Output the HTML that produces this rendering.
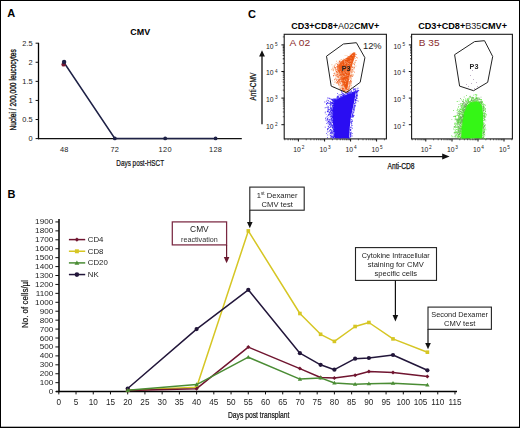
<!DOCTYPE html>
<html><head><meta charset="utf-8"><style>
html,body{margin:0;padding:0;background:#fff;}
svg{display:block;font-family:"Liberation Sans", sans-serif;}
</style></head><body>
<svg width="520" height="428" viewBox="0 0 520 428">
<defs><filter id="soft" x="-5%" y="-5%" width="110%" height="110%"><feGaussianBlur stdDeviation="0.3"/></filter></defs>
<rect width="520" height="428" fill="#fff"/>
<rect x="0" y="0" width="520" height="1" fill="#000"/>
<rect x="0" y="0" width="1" height="428" fill="#000"/>
<rect x="519" y="0" width="1" height="428" fill="#000"/>
<rect x="0" y="426.7" width="520" height="1.3" fill="#000"/>
<text x="7.2" y="17.2" font-size="11" font-weight="bold" fill="#000" text-anchor="start" >A</text>
<text x="248.0" y="17.5" font-size="11" font-weight="bold" fill="#000" text-anchor="start" >C</text>
<text x="7.4" y="197.6" font-size="11" font-weight="bold" fill="#000" text-anchor="start" >B</text>
<text x="130.3" y="34.9" font-size="9.3" font-weight="bold" fill="#000" text-anchor="start" textLength="19.8" lengthAdjust="spacingAndGlyphs" >CMV</text>
<line x1="38.5" y1="42.8" x2="38.5" y2="139.2" stroke="#000" stroke-width="1.3" />
<line x1="38" y1="138.6" x2="241.8" y2="138.6" stroke="#111" stroke-width="1.3" />
<line x1="35.6" y1="43.2" x2="38.5" y2="43.2" stroke="#111" stroke-width="1" />
<text x="32.6" y="45.800000000000004" font-size="7.4" font-weight="normal" fill="#222" text-anchor="end" >2.5</text>
<line x1="35.6" y1="62.28" x2="38.5" y2="62.28" stroke="#111" stroke-width="1" />
<text x="32.6" y="64.88" font-size="7.4" font-weight="normal" fill="#222" text-anchor="end" >2</text>
<line x1="35.6" y1="81.36" x2="38.5" y2="81.36" stroke="#111" stroke-width="1" />
<text x="32.6" y="83.96" font-size="7.4" font-weight="normal" fill="#222" text-anchor="end" >1.5</text>
<line x1="35.6" y1="100.44" x2="38.5" y2="100.44" stroke="#111" stroke-width="1" />
<text x="32.6" y="103.03999999999999" font-size="7.4" font-weight="normal" fill="#222" text-anchor="end" >1</text>
<line x1="35.6" y1="119.52" x2="38.5" y2="119.52" stroke="#111" stroke-width="1" />
<text x="32.6" y="122.11999999999999" font-size="7.4" font-weight="normal" fill="#222" text-anchor="end" >0.5</text>
<line x1="35.6" y1="138.6" x2="38.5" y2="138.6" stroke="#111" stroke-width="1" />
<text x="32.6" y="141.2" font-size="7.4" font-weight="normal" fill="#222" text-anchor="end" >0</text>
<text x="64.3" y="151.8" font-size="7.4" font-weight="normal" fill="#222" text-anchor="middle" letter-spacing="0.3">48</text>
<text x="114.8" y="151.8" font-size="7.4" font-weight="normal" fill="#222" text-anchor="middle" letter-spacing="0.3">72</text>
<text x="165.2" y="151.8" font-size="7.4" font-weight="normal" fill="#222" text-anchor="middle" letter-spacing="0.3">120</text>
<text x="215.6" y="151.8" font-size="7.4" font-weight="normal" fill="#222" text-anchor="middle" letter-spacing="0.3">128</text>
<text x="116.3" y="165.7" font-size="8.6" font-weight="normal" fill="#111" text-anchor="start" textLength="47.8" lengthAdjust="spacingAndGlyphs" stroke="#111" stroke-width="0.2">Days post-HSCT</text>
<g transform="translate(15.6,130.6) rotate(-90)"><text x="0" y="0" font-size="9.2" fill="#111" stroke="#111" stroke-width="0.35" textLength="81.5" lengthAdjust="spacingAndGlyphs">Nuclei / 200,000 leucocytes</text></g>
<polyline points="64.3,63 114.8,138.4 165.2,138.4 215.6,138.4" fill="none" stroke="#1e2146" stroke-width="1.5"/>
<circle cx="63.6" cy="64.4" r="2.2" fill="#7a1832"/>
<circle cx="64.1" cy="62" r="2.2" fill="#1e2146"/>
<circle cx="114.8" cy="138.4" r="1.9" fill="#1e2146"/>
<circle cx="165.2" cy="138.4" r="1.9" fill="#1e2146"/>
<circle cx="215.6" cy="138.4" r="1.9" fill="#1e2146"/>
<rect x="284.2" y="34.3" width="102.19999999999999" height="104.60000000000001" fill="none" stroke="#1a1a1a" stroke-width="1.1"/>
<line x1="281.4" y1="44.9" x2="284.2" y2="44.9" stroke="#111" stroke-width="1" />
<line x1="281.4" y1="71.5" x2="284.2" y2="71.5" stroke="#111" stroke-width="1" />
<line x1="281.4" y1="98.1" x2="284.2" y2="98.1" stroke="#111" stroke-width="1" />
<line x1="281.4" y1="124.7" x2="284.2" y2="124.7" stroke="#111" stroke-width="1" />
<line x1="282.8" y1="63.4926021153381" x2="284.2" y2="63.4926021153381" stroke="#222" stroke-width="0.7" />
<line x1="282.8" y1="58.80857462445698" x2="284.2" y2="58.80857462445698" stroke="#222" stroke-width="0.7" />
<line x1="282.8" y1="55.4852042306762" x2="284.2" y2="55.4852042306762" stroke="#222" stroke-width="0.7" />
<line x1="282.8" y1="52.9073978846619" x2="284.2" y2="52.9073978846619" stroke="#222" stroke-width="0.7" />
<line x1="282.8" y1="50.80117673979508" x2="284.2" y2="50.80117673979508" stroke="#222" stroke-width="0.7" />
<line x1="282.8" y1="49.02039213562077" x2="284.2" y2="49.02039213562077" stroke="#222" stroke-width="0.7" />
<line x1="282.8" y1="47.477806346014304" x2="284.2" y2="47.477806346014304" stroke="#222" stroke-width="0.7" />
<line x1="282.8" y1="46.11714924891396" x2="284.2" y2="46.11714924891396" stroke="#222" stroke-width="0.7" />
<line x1="282.8" y1="36.8926021153381" x2="284.2" y2="36.8926021153381" stroke="#222" stroke-width="0.7" />
<line x1="282.8" y1="63.4926021153381" x2="284.2" y2="63.4926021153381" stroke="#222" stroke-width="0.7" />
<line x1="282.8" y1="58.80857462445698" x2="284.2" y2="58.80857462445698" stroke="#222" stroke-width="0.7" />
<line x1="282.8" y1="55.4852042306762" x2="284.2" y2="55.4852042306762" stroke="#222" stroke-width="0.7" />
<line x1="282.8" y1="52.9073978846619" x2="284.2" y2="52.9073978846619" stroke="#222" stroke-width="0.7" />
<line x1="282.8" y1="50.80117673979508" x2="284.2" y2="50.80117673979508" stroke="#222" stroke-width="0.7" />
<line x1="282.8" y1="49.02039213562077" x2="284.2" y2="49.02039213562077" stroke="#222" stroke-width="0.7" />
<line x1="282.8" y1="47.477806346014304" x2="284.2" y2="47.477806346014304" stroke="#222" stroke-width="0.7" />
<line x1="282.8" y1="46.11714924891396" x2="284.2" y2="46.11714924891396" stroke="#222" stroke-width="0.7" />
<line x1="282.8" y1="90.0926021153381" x2="284.2" y2="90.0926021153381" stroke="#222" stroke-width="0.7" />
<line x1="282.8" y1="85.40857462445697" x2="284.2" y2="85.40857462445697" stroke="#222" stroke-width="0.7" />
<line x1="282.8" y1="82.0852042306762" x2="284.2" y2="82.0852042306762" stroke="#222" stroke-width="0.7" />
<line x1="282.8" y1="79.50739788466188" x2="284.2" y2="79.50739788466188" stroke="#222" stroke-width="0.7" />
<line x1="282.8" y1="77.40117673979508" x2="284.2" y2="77.40117673979508" stroke="#222" stroke-width="0.7" />
<line x1="282.8" y1="75.62039213562076" x2="284.2" y2="75.62039213562076" stroke="#222" stroke-width="0.7" />
<line x1="282.8" y1="74.0778063460143" x2="284.2" y2="74.0778063460143" stroke="#222" stroke-width="0.7" />
<line x1="282.8" y1="72.71714924891396" x2="284.2" y2="72.71714924891396" stroke="#222" stroke-width="0.7" />
<line x1="282.8" y1="116.6926021153381" x2="284.2" y2="116.6926021153381" stroke="#222" stroke-width="0.7" />
<line x1="282.8" y1="112.00857462445698" x2="284.2" y2="112.00857462445698" stroke="#222" stroke-width="0.7" />
<line x1="282.8" y1="108.6852042306762" x2="284.2" y2="108.6852042306762" stroke="#222" stroke-width="0.7" />
<line x1="282.8" y1="106.1073978846619" x2="284.2" y2="106.1073978846619" stroke="#222" stroke-width="0.7" />
<line x1="282.8" y1="104.00117673979508" x2="284.2" y2="104.00117673979508" stroke="#222" stroke-width="0.7" />
<line x1="282.8" y1="102.22039213562077" x2="284.2" y2="102.22039213562077" stroke="#222" stroke-width="0.7" />
<line x1="282.8" y1="100.67780634601431" x2="284.2" y2="100.67780634601431" stroke="#222" stroke-width="0.7" />
<line x1="282.8" y1="99.31714924891396" x2="284.2" y2="99.31714924891396" stroke="#222" stroke-width="0.7" />
<line x1="298.4" y1="138.9" x2="298.4" y2="141.5" stroke="#111" stroke-width="1" />
<line x1="324.6" y1="138.9" x2="324.6" y2="141.5" stroke="#111" stroke-width="1" />
<line x1="350.6" y1="138.9" x2="350.6" y2="141.5" stroke="#111" stroke-width="1" />
<line x1="376.6" y1="138.9" x2="376.6" y2="141.5" stroke="#111" stroke-width="1" />
<line x1="284.8051526227112" y1="138.9" x2="284.8051526227112" y2="140.3" stroke="#222" stroke-width="0.7" />
<line x1="288.053559774527" y1="138.9" x2="288.053559774527" y2="140.3" stroke="#222" stroke-width="0.7" />
<line x1="290.57322011273646" y1="138.9" x2="290.57322011273646" y2="140.3" stroke="#222" stroke-width="0.7" />
<line x1="292.6319325099747" y1="138.9" x2="292.6319325099747" y2="140.3" stroke="#222" stroke-width="0.7" />
<line x1="294.37254904037064" y1="138.9" x2="294.37254904037064" y2="140.3" stroke="#222" stroke-width="0.7" />
<line x1="295.8803396617905" y1="138.9" x2="295.8803396617905" y2="140.3" stroke="#222" stroke-width="0.7" />
<line x1="297.21030524542243" y1="138.9" x2="297.21030524542243" y2="140.3" stroke="#222" stroke-width="0.7" />
<line x1="306.2267798872635" y1="138.9" x2="306.2267798872635" y2="140.3" stroke="#222" stroke-width="0.7" />
<line x1="310.8051526227112" y1="138.9" x2="310.8051526227112" y2="140.3" stroke="#222" stroke-width="0.7" />
<line x1="314.053559774527" y1="138.9" x2="314.053559774527" y2="140.3" stroke="#222" stroke-width="0.7" />
<line x1="316.57322011273646" y1="138.9" x2="316.57322011273646" y2="140.3" stroke="#222" stroke-width="0.7" />
<line x1="318.6319325099747" y1="138.9" x2="318.6319325099747" y2="140.3" stroke="#222" stroke-width="0.7" />
<line x1="320.37254904037064" y1="138.9" x2="320.37254904037064" y2="140.3" stroke="#222" stroke-width="0.7" />
<line x1="321.8803396617905" y1="138.9" x2="321.8803396617905" y2="140.3" stroke="#222" stroke-width="0.7" />
<line x1="323.21030524542243" y1="138.9" x2="323.21030524542243" y2="140.3" stroke="#222" stroke-width="0.7" />
<line x1="332.42677988726354" y1="138.9" x2="332.42677988726354" y2="140.3" stroke="#222" stroke-width="0.7" />
<line x1="337.00515262271125" y1="138.9" x2="337.00515262271125" y2="140.3" stroke="#222" stroke-width="0.7" />
<line x1="340.25355977452705" y1="138.9" x2="340.25355977452705" y2="140.3" stroke="#222" stroke-width="0.7" />
<line x1="342.7732201127365" y1="138.9" x2="342.7732201127365" y2="140.3" stroke="#222" stroke-width="0.7" />
<line x1="344.83193250997476" y1="138.9" x2="344.83193250997476" y2="140.3" stroke="#222" stroke-width="0.7" />
<line x1="346.5725490403707" y1="138.9" x2="346.5725490403707" y2="140.3" stroke="#222" stroke-width="0.7" />
<line x1="348.08033966179056" y1="138.9" x2="348.08033966179056" y2="140.3" stroke="#222" stroke-width="0.7" />
<line x1="349.4103052454225" y1="138.9" x2="349.4103052454225" y2="140.3" stroke="#222" stroke-width="0.7" />
<line x1="358.42677988726354" y1="138.9" x2="358.42677988726354" y2="140.3" stroke="#222" stroke-width="0.7" />
<line x1="363.00515262271125" y1="138.9" x2="363.00515262271125" y2="140.3" stroke="#222" stroke-width="0.7" />
<line x1="366.25355977452705" y1="138.9" x2="366.25355977452705" y2="140.3" stroke="#222" stroke-width="0.7" />
<line x1="368.7732201127365" y1="138.9" x2="368.7732201127365" y2="140.3" stroke="#222" stroke-width="0.7" />
<line x1="370.83193250997476" y1="138.9" x2="370.83193250997476" y2="140.3" stroke="#222" stroke-width="0.7" />
<line x1="372.5725490403707" y1="138.9" x2="372.5725490403707" y2="140.3" stroke="#222" stroke-width="0.7" />
<line x1="374.08033966179056" y1="138.9" x2="374.08033966179056" y2="140.3" stroke="#222" stroke-width="0.7" />
<line x1="375.4103052454225" y1="138.9" x2="375.4103052454225" y2="140.3" stroke="#222" stroke-width="0.7" />
<line x1="384.42677988726354" y1="138.9" x2="384.42677988726354" y2="140.3" stroke="#222" stroke-width="0.7" />
<text x="293.3" y="151.8" font-size="7.4" fill="#222" textLength="7.6" lengthAdjust="spacingAndGlyphs">10</text>
<text x="301.7" y="148.9" font-size="4.7" fill="#222">2</text>
<text x="319.5" y="151.8" font-size="7.4" fill="#222" textLength="7.6" lengthAdjust="spacingAndGlyphs">10</text>
<text x="327.9" y="148.9" font-size="4.7" fill="#222">3</text>
<text x="345.5" y="151.8" font-size="7.4" fill="#222" textLength="7.6" lengthAdjust="spacingAndGlyphs">10</text>
<text x="353.9" y="148.9" font-size="4.7" fill="#222">4</text>
<text x="371.5" y="151.8" font-size="7.4" fill="#222" textLength="7.6" lengthAdjust="spacingAndGlyphs">10</text>
<text x="379.9" y="148.9" font-size="4.7" fill="#222">5</text>
<text x="266.0" y="48.8" font-size="7.4" fill="#222" textLength="7.6" lengthAdjust="spacingAndGlyphs">10</text>
<text x="277.7" y="46.2" font-size="4.7" fill="#222" text-anchor="end">5</text>
<text x="266.0" y="75.4" font-size="7.4" fill="#222" textLength="7.6" lengthAdjust="spacingAndGlyphs">10</text>
<text x="277.7" y="72.8" font-size="4.7" fill="#222" text-anchor="end">4</text>
<text x="266.0" y="102.0" font-size="7.4" fill="#222" textLength="7.6" lengthAdjust="spacingAndGlyphs">10</text>
<text x="277.7" y="99.4" font-size="4.7" fill="#222" text-anchor="end">3</text>
<text x="266.0" y="128.6" font-size="7.4" fill="#222" textLength="7.6" lengthAdjust="spacingAndGlyphs">10</text>
<text x="277.7" y="126.0" font-size="4.7" fill="#222" text-anchor="end">2</text>
<rect x="411.6" y="34.3" width="100.79999999999995" height="104.60000000000001" fill="none" stroke="#1a1a1a" stroke-width="1.1"/>
<line x1="408.8" y1="44.9" x2="411.6" y2="44.9" stroke="#111" stroke-width="1" />
<line x1="408.8" y1="71.5" x2="411.6" y2="71.5" stroke="#111" stroke-width="1" />
<line x1="408.8" y1="98.1" x2="411.6" y2="98.1" stroke="#111" stroke-width="1" />
<line x1="408.8" y1="124.7" x2="411.6" y2="124.7" stroke="#111" stroke-width="1" />
<line x1="410.20000000000005" y1="63.4926021153381" x2="411.6" y2="63.4926021153381" stroke="#222" stroke-width="0.7" />
<line x1="410.20000000000005" y1="58.80857462445698" x2="411.6" y2="58.80857462445698" stroke="#222" stroke-width="0.7" />
<line x1="410.20000000000005" y1="55.4852042306762" x2="411.6" y2="55.4852042306762" stroke="#222" stroke-width="0.7" />
<line x1="410.20000000000005" y1="52.9073978846619" x2="411.6" y2="52.9073978846619" stroke="#222" stroke-width="0.7" />
<line x1="410.20000000000005" y1="50.80117673979508" x2="411.6" y2="50.80117673979508" stroke="#222" stroke-width="0.7" />
<line x1="410.20000000000005" y1="49.02039213562077" x2="411.6" y2="49.02039213562077" stroke="#222" stroke-width="0.7" />
<line x1="410.20000000000005" y1="47.477806346014304" x2="411.6" y2="47.477806346014304" stroke="#222" stroke-width="0.7" />
<line x1="410.20000000000005" y1="46.11714924891396" x2="411.6" y2="46.11714924891396" stroke="#222" stroke-width="0.7" />
<line x1="410.20000000000005" y1="36.8926021153381" x2="411.6" y2="36.8926021153381" stroke="#222" stroke-width="0.7" />
<line x1="410.20000000000005" y1="63.4926021153381" x2="411.6" y2="63.4926021153381" stroke="#222" stroke-width="0.7" />
<line x1="410.20000000000005" y1="58.80857462445698" x2="411.6" y2="58.80857462445698" stroke="#222" stroke-width="0.7" />
<line x1="410.20000000000005" y1="55.4852042306762" x2="411.6" y2="55.4852042306762" stroke="#222" stroke-width="0.7" />
<line x1="410.20000000000005" y1="52.9073978846619" x2="411.6" y2="52.9073978846619" stroke="#222" stroke-width="0.7" />
<line x1="410.20000000000005" y1="50.80117673979508" x2="411.6" y2="50.80117673979508" stroke="#222" stroke-width="0.7" />
<line x1="410.20000000000005" y1="49.02039213562077" x2="411.6" y2="49.02039213562077" stroke="#222" stroke-width="0.7" />
<line x1="410.20000000000005" y1="47.477806346014304" x2="411.6" y2="47.477806346014304" stroke="#222" stroke-width="0.7" />
<line x1="410.20000000000005" y1="46.11714924891396" x2="411.6" y2="46.11714924891396" stroke="#222" stroke-width="0.7" />
<line x1="410.20000000000005" y1="90.0926021153381" x2="411.6" y2="90.0926021153381" stroke="#222" stroke-width="0.7" />
<line x1="410.20000000000005" y1="85.40857462445697" x2="411.6" y2="85.40857462445697" stroke="#222" stroke-width="0.7" />
<line x1="410.20000000000005" y1="82.0852042306762" x2="411.6" y2="82.0852042306762" stroke="#222" stroke-width="0.7" />
<line x1="410.20000000000005" y1="79.50739788466188" x2="411.6" y2="79.50739788466188" stroke="#222" stroke-width="0.7" />
<line x1="410.20000000000005" y1="77.40117673979508" x2="411.6" y2="77.40117673979508" stroke="#222" stroke-width="0.7" />
<line x1="410.20000000000005" y1="75.62039213562076" x2="411.6" y2="75.62039213562076" stroke="#222" stroke-width="0.7" />
<line x1="410.20000000000005" y1="74.0778063460143" x2="411.6" y2="74.0778063460143" stroke="#222" stroke-width="0.7" />
<line x1="410.20000000000005" y1="72.71714924891396" x2="411.6" y2="72.71714924891396" stroke="#222" stroke-width="0.7" />
<line x1="410.20000000000005" y1="116.6926021153381" x2="411.6" y2="116.6926021153381" stroke="#222" stroke-width="0.7" />
<line x1="410.20000000000005" y1="112.00857462445698" x2="411.6" y2="112.00857462445698" stroke="#222" stroke-width="0.7" />
<line x1="410.20000000000005" y1="108.6852042306762" x2="411.6" y2="108.6852042306762" stroke="#222" stroke-width="0.7" />
<line x1="410.20000000000005" y1="106.1073978846619" x2="411.6" y2="106.1073978846619" stroke="#222" stroke-width="0.7" />
<line x1="410.20000000000005" y1="104.00117673979508" x2="411.6" y2="104.00117673979508" stroke="#222" stroke-width="0.7" />
<line x1="410.20000000000005" y1="102.22039213562077" x2="411.6" y2="102.22039213562077" stroke="#222" stroke-width="0.7" />
<line x1="410.20000000000005" y1="100.67780634601431" x2="411.6" y2="100.67780634601431" stroke="#222" stroke-width="0.7" />
<line x1="410.20000000000005" y1="99.31714924891396" x2="411.6" y2="99.31714924891396" stroke="#222" stroke-width="0.7" />
<line x1="425.8" y1="138.9" x2="425.8" y2="141.5" stroke="#111" stroke-width="1" />
<line x1="452.00000000000006" y1="138.9" x2="452.00000000000006" y2="141.5" stroke="#111" stroke-width="1" />
<line x1="478.00000000000006" y1="138.9" x2="478.00000000000006" y2="141.5" stroke="#111" stroke-width="1" />
<line x1="504.00000000000006" y1="138.9" x2="504.00000000000006" y2="141.5" stroke="#111" stroke-width="1" />
<line x1="412.20515262271124" y1="138.9" x2="412.20515262271124" y2="140.3" stroke="#222" stroke-width="0.7" />
<line x1="415.45355977452704" y1="138.9" x2="415.45355977452704" y2="140.3" stroke="#222" stroke-width="0.7" />
<line x1="417.9732201127365" y1="138.9" x2="417.9732201127365" y2="140.3" stroke="#222" stroke-width="0.7" />
<line x1="420.03193250997475" y1="138.9" x2="420.03193250997475" y2="140.3" stroke="#222" stroke-width="0.7" />
<line x1="421.7725490403707" y1="138.9" x2="421.7725490403707" y2="140.3" stroke="#222" stroke-width="0.7" />
<line x1="423.28033966179055" y1="138.9" x2="423.28033966179055" y2="140.3" stroke="#222" stroke-width="0.7" />
<line x1="424.61030524542247" y1="138.9" x2="424.61030524542247" y2="140.3" stroke="#222" stroke-width="0.7" />
<line x1="433.6267798872635" y1="138.9" x2="433.6267798872635" y2="140.3" stroke="#222" stroke-width="0.7" />
<line x1="438.20515262271124" y1="138.9" x2="438.20515262271124" y2="140.3" stroke="#222" stroke-width="0.7" />
<line x1="441.45355977452704" y1="138.9" x2="441.45355977452704" y2="140.3" stroke="#222" stroke-width="0.7" />
<line x1="443.9732201127365" y1="138.9" x2="443.9732201127365" y2="140.3" stroke="#222" stroke-width="0.7" />
<line x1="446.03193250997475" y1="138.9" x2="446.03193250997475" y2="140.3" stroke="#222" stroke-width="0.7" />
<line x1="447.7725490403707" y1="138.9" x2="447.7725490403707" y2="140.3" stroke="#222" stroke-width="0.7" />
<line x1="449.28033966179055" y1="138.9" x2="449.28033966179055" y2="140.3" stroke="#222" stroke-width="0.7" />
<line x1="450.61030524542247" y1="138.9" x2="450.61030524542247" y2="140.3" stroke="#222" stroke-width="0.7" />
<line x1="459.82677988726357" y1="138.9" x2="459.82677988726357" y2="140.3" stroke="#222" stroke-width="0.7" />
<line x1="464.4051526227113" y1="138.9" x2="464.4051526227113" y2="140.3" stroke="#222" stroke-width="0.7" />
<line x1="467.6535597745271" y1="138.9" x2="467.6535597745271" y2="140.3" stroke="#222" stroke-width="0.7" />
<line x1="470.17322011273654" y1="138.9" x2="470.17322011273654" y2="140.3" stroke="#222" stroke-width="0.7" />
<line x1="472.2319325099748" y1="138.9" x2="472.2319325099748" y2="140.3" stroke="#222" stroke-width="0.7" />
<line x1="473.9725490403707" y1="138.9" x2="473.9725490403707" y2="140.3" stroke="#222" stroke-width="0.7" />
<line x1="475.4803396617906" y1="138.9" x2="475.4803396617906" y2="140.3" stroke="#222" stroke-width="0.7" />
<line x1="476.8103052454225" y1="138.9" x2="476.8103052454225" y2="140.3" stroke="#222" stroke-width="0.7" />
<line x1="485.82677988726357" y1="138.9" x2="485.82677988726357" y2="140.3" stroke="#222" stroke-width="0.7" />
<line x1="490.4051526227113" y1="138.9" x2="490.4051526227113" y2="140.3" stroke="#222" stroke-width="0.7" />
<line x1="493.6535597745271" y1="138.9" x2="493.6535597745271" y2="140.3" stroke="#222" stroke-width="0.7" />
<line x1="496.17322011273654" y1="138.9" x2="496.17322011273654" y2="140.3" stroke="#222" stroke-width="0.7" />
<line x1="498.2319325099748" y1="138.9" x2="498.2319325099748" y2="140.3" stroke="#222" stroke-width="0.7" />
<line x1="499.9725490403707" y1="138.9" x2="499.9725490403707" y2="140.3" stroke="#222" stroke-width="0.7" />
<line x1="501.4803396617906" y1="138.9" x2="501.4803396617906" y2="140.3" stroke="#222" stroke-width="0.7" />
<line x1="502.8103052454225" y1="138.9" x2="502.8103052454225" y2="140.3" stroke="#222" stroke-width="0.7" />
<line x1="511.82677988726357" y1="138.9" x2="511.82677988726357" y2="140.3" stroke="#222" stroke-width="0.7" />
<text x="420.7" y="151.8" font-size="7.4" fill="#222" textLength="7.6" lengthAdjust="spacingAndGlyphs">10</text>
<text x="429.1" y="148.9" font-size="4.7" fill="#222">2</text>
<text x="446.9" y="151.8" font-size="7.4" fill="#222" textLength="7.6" lengthAdjust="spacingAndGlyphs">10</text>
<text x="455.3" y="148.9" font-size="4.7" fill="#222">3</text>
<text x="472.9" y="151.8" font-size="7.4" fill="#222" textLength="7.6" lengthAdjust="spacingAndGlyphs">10</text>
<text x="481.3" y="148.9" font-size="4.7" fill="#222">4</text>
<text x="498.9" y="151.8" font-size="7.4" fill="#222" textLength="7.6" lengthAdjust="spacingAndGlyphs">10</text>
<text x="507.3" y="148.9" font-size="4.7" fill="#222">5</text>
<text x="393.4" y="48.8" font-size="7.4" fill="#222" textLength="7.6" lengthAdjust="spacingAndGlyphs">10</text>
<text x="405.1" y="46.2" font-size="4.7" fill="#222" text-anchor="end">5</text>
<text x="393.4" y="75.4" font-size="7.4" fill="#222" textLength="7.6" lengthAdjust="spacingAndGlyphs">10</text>
<text x="405.1" y="72.8" font-size="4.7" fill="#222" text-anchor="end">4</text>
<text x="393.4" y="102.0" font-size="7.4" fill="#222" textLength="7.6" lengthAdjust="spacingAndGlyphs">10</text>
<text x="405.1" y="99.4" font-size="4.7" fill="#222" text-anchor="end">3</text>
<text x="393.4" y="128.6" font-size="7.4" fill="#222" textLength="7.6" lengthAdjust="spacingAndGlyphs">10</text>
<text x="405.1" y="126.0" font-size="4.7" fill="#222" text-anchor="end">2</text>
<text x="291.3" y="28.8" font-size="8.2" fill="#000" textLength="88" lengthAdjust="spacingAndGlyphs"><tspan font-weight="bold">CD3+CD8+</tspan><tspan fill="#222">A02</tspan><tspan font-weight="bold">CMV+</tspan></text>
<text x="418.2" y="28.8" font-size="8.2" fill="#000" textLength="88.8" lengthAdjust="spacingAndGlyphs"><tspan font-weight="bold">CD3+CD8+</tspan><tspan fill="#222">B35</tspan><tspan font-weight="bold">CMV+</tspan></text>
<text x="289.6" y="46.0" font-size="8.4" font-weight="normal" fill="#8a2c2c" text-anchor="start" textLength="20.5" lengthAdjust="spacingAndGlyphs" >A 02</text>
<text x="418.8" y="46.2" font-size="8.4" font-weight="normal" fill="#8a2c2c" text-anchor="start" textLength="20.7" lengthAdjust="spacingAndGlyphs" >B 35</text>
<text x="363.0" y="49.2" font-size="9.0" font-weight="normal" fill="#222" text-anchor="start" textLength="18.6" lengthAdjust="spacingAndGlyphs" >12%</text>
<line x1="262" y1="54" x2="262" y2="124.2" stroke="#111" stroke-width="1.3" />
<polygon points="262,50.2 259.1,56.4 264.9,56.4" fill="#111"/>
<line x1="358.5" y1="156.6" x2="444" y2="156.6" stroke="#111" stroke-width="1.3" />
<polygon points="449.6,156.6 442.2,153.6 442.2,159.6" fill="#111"/>
<text x="387.5" y="168.5" font-size="8.8" font-weight="normal" fill="#111" text-anchor="start" textLength="27" lengthAdjust="spacingAndGlyphs" stroke="#111" stroke-width="0.25">Anti-CD8</text>
<g transform="translate(256.1,100.6) rotate(-90)"><text x="0" y="0" font-size="9" fill="#111" stroke="#111" stroke-width="0.25" textLength="28" lengthAdjust="spacingAndGlyphs">Anti-CMV</text></g>
<g filter="url(#soft)">
<path d="M333.7,101.0 L340.0,97.5 L348.0,94.0 L356.0,91.2 L355.0,97.0 L353.8,103.6 L352.2,111.0 L350.8,118.0 L349.8,127.0 L349.2,138.2 L335.0,138.2 L333.8,131.0 L333.0,123.3 L332.4,110.2 Z" fill="#2a10f2"/>
<path d="M324.8 112.4h0.84v0.84h-0.84zM330.2 116.3h0.84v0.84h-0.84zM352.6 112.9h0.84v0.84h-0.84zM326.8 119.1h0.84v0.84h-0.84zM345.4 93.5h0.84v0.84h-0.84zM343.2 95.2h0.84v0.84h-0.84zM346.3 92.7h0.84v0.84h-0.84zM335.1 98.4h0.84v0.84h-0.84zM341.6 95.4h0.84v0.84h-0.84zM356.7 91.4h0.84v0.84h-0.84zM333.1 100.3h0.84v0.84h-0.84zM327.6 109.0h0.84v0.84h-0.84zM337.1 96.1h0.84v0.84h-0.84zM326.8 99.7h0.84v0.84h-0.84zM356.5 100.0h0.84v0.84h-0.84zM330.0 104.0h0.84v0.84h-0.84zM354.8 99.2h0.84v0.84h-0.84zM332.9 101.2h0.84v0.84h-0.84zM329.1 109.2h0.84v0.84h-0.84zM333.0 136.5h0.84v0.84h-0.84zM332.4 116.5h0.84v0.84h-0.84zM352.1 111.5h0.84v0.84h-0.84zM354.9 101.8h0.84v0.84h-0.84zM331.4 135.4h0.84v0.84h-0.84zM347.8 93.2h0.84v0.84h-0.84zM339.5 138.2h0.84v0.84h-0.84zM333.2 99.8h0.84v0.84h-0.84zM339.6 94.6h0.84v0.84h-0.84zM331.3 133.4h0.84v0.84h-0.84zM342.0 93.1h0.84v0.84h-0.84zM326.2 103.8h0.84v0.84h-0.84zM332.7 99.4h0.84v0.84h-0.84zM352.9 91.7h0.84v0.84h-0.84zM339.3 97.5h0.84v0.84h-0.84zM333.1 136.2h0.84v0.84h-0.84zM331.2 136.7h0.84v0.84h-0.84zM344.0 95.6h0.84v0.84h-0.84zM331.6 136.9h0.84v0.84h-0.84zM356.6 89.9h0.84v0.84h-0.84zM355.3 98.8h0.84v0.84h-0.84zM351.4 92.2h0.84v0.84h-0.84zM331.0 98.8h0.84v0.84h-0.84zM331.8 105.2h0.84v0.84h-0.84zM330.3 102.2h0.84v0.84h-0.84zM350.3 90.6h0.84v0.84h-0.84zM330.9 124.0h0.84v0.84h-0.84zM342.5 94.3h0.84v0.84h-0.84zM329.3 127.1h0.84v0.84h-0.84zM332.6 125.9h0.84v0.84h-0.84zM342.4 95.2h0.84v0.84h-0.84zM329.6 127.0h0.84v0.84h-0.84zM337.9 97.6h0.84v0.84h-0.84zM324.8 126.7h0.84v0.84h-0.84zM350.4 136.5h0.84v0.84h-0.84zM332.6 124.9h0.84v0.84h-0.84zM331.5 118.5h0.84v0.84h-0.84zM350.1 129.1h0.84v0.84h-0.84zM355.5 96.6h0.84v0.84h-0.84zM333.5 100.6h0.84v0.84h-0.84zM333.7 135.4h0.84v0.84h-0.84zM331.6 122.5h0.84v0.84h-0.84zM327.0 119.2h0.84v0.84h-0.84zM351.3 124.8h0.84v0.84h-0.84zM347.7 92.4h0.84v0.84h-0.84zM333.1 102.9h0.84v0.84h-0.84zM329.3 103.0h0.84v0.84h-0.84zM341.3 96.1h0.84v0.84h-0.84zM352.7 112.1h0.84v0.84h-0.84zM351.0 126.7h0.84v0.84h-0.84zM334.6 98.7h0.84v0.84h-0.84zM332.5 126.6h0.84v0.84h-0.84zM331.5 108.6h0.84v0.84h-0.84zM350.1 127.0h0.84v0.84h-0.84zM324.4 101.6h0.84v0.84h-0.84zM331.6 120.8h0.84v0.84h-0.84zM355.8 91.1h0.84v0.84h-0.84zM333.6 101.7h0.84v0.84h-0.84zM350.4 134.8h0.84v0.84h-0.84zM332.9 124.3h0.84v0.84h-0.84zM333.4 136.4h0.84v0.84h-0.84zM357.7 100.7h0.84v0.84h-0.84zM355.5 91.3h0.84v0.84h-0.84zM329.6 98.3h0.84v0.84h-0.84zM328.3 109.3h0.84v0.84h-0.84zM353.6 114.9h0.84v0.84h-0.84zM337.2 93.2h0.84v0.84h-0.84zM331.8 115.8h0.84v0.84h-0.84zM353.5 105.8h0.84v0.84h-0.84zM327.6 107.1h0.84v0.84h-0.84zM332.8 103.4h0.84v0.84h-0.84zM350.7 92.1h0.84v0.84h-0.84zM334.9 98.6h0.84v0.84h-0.84zM353.5 110.0h0.84v0.84h-0.84zM335.9 98.5h0.84v0.84h-0.84zM354.6 91.5h0.84v0.84h-0.84zM327.8 131.5h0.84v0.84h-0.84zM330.3 101.8h0.84v0.84h-0.84zM352.0 113.4h0.84v0.84h-0.84zM340.7 94.0h0.84v0.84h-0.84zM330.9 111.9h0.84v0.84h-0.84zM332.9 106.3h0.84v0.84h-0.84zM331.9 102.0h0.84v0.84h-0.84zM330.4 136.8h0.84v0.84h-0.84zM331.4 135.7h0.84v0.84h-0.84zM332.2 109.6h0.84v0.84h-0.84zM331.6 131.6h0.84v0.84h-0.84zM327.7 123.4h0.84v0.84h-0.84zM328.0 100.3h0.84v0.84h-0.84zM352.1 120.6h0.84v0.84h-0.84zM355.2 90.3h0.84v0.84h-0.84zM327.8 125.8h0.84v0.84h-0.84zM340.3 96.4h0.84v0.84h-0.84zM329.6 120.8h0.84v0.84h-0.84zM338.1 96.6h0.84v0.84h-0.84zM330.6 114.3h0.84v0.84h-0.84zM330.3 129.1h0.84v0.84h-0.84zM349.8 128.8h0.84v0.84h-0.84zM344.2 94.1h0.84v0.84h-0.84zM330.6 123.8h0.84v0.84h-0.84zM332.2 115.9h0.84v0.84h-0.84zM325.7 107.2h0.84v0.84h-0.84zM328.2 126.5h0.84v0.84h-0.84zM332.6 105.3h0.84v0.84h-0.84zM330.7 109.3h0.84v0.84h-0.84zM347.8 91.8h0.84v0.84h-0.84zM329.7 104.8h0.84v0.84h-0.84zM334.2 100.2h0.84v0.84h-0.84zM334.3 99.3h0.84v0.84h-0.84zM331.8 106.8h0.84v0.84h-0.84zM350.4 134.3h0.84v0.84h-0.84zM324.7 107.5h0.84v0.84h-0.84zM354.1 103.1h0.84v0.84h-0.84zM354.8 99.3h0.84v0.84h-0.84zM332.2 125.5h0.84v0.84h-0.84zM330.2 135.1h0.84v0.84h-0.84zM333.3 99.6h0.84v0.84h-0.84zM327.1 137.0h0.84v0.84h-0.84zM341.1 91.3h0.84v0.84h-0.84zM327.5 111.4h0.84v0.84h-0.84zM352.8 109.4h0.84v0.84h-0.84zM331.0 115.8h0.84v0.84h-0.84zM330.1 123.5h0.84v0.84h-0.84zM336.5 98.5h0.84v0.84h-0.84zM331.1 108.0h0.84v0.84h-0.84zM333.4 130.9h0.84v0.84h-0.84zM331.5 129.8h0.84v0.84h-0.84zM333.5 133.4h0.84v0.84h-0.84zM332.4 116.4h0.84v0.84h-0.84zM346.9 93.9h0.84v0.84h-0.84zM332.0 114.5h0.84v0.84h-0.84zM327.2 129.3h0.84v0.84h-0.84zM333.1 124.8h0.84v0.84h-0.84zM350.7 92.7h0.84v0.84h-0.84zM327.4 110.4h0.84v0.84h-0.84zM338.3 96.2h0.84v0.84h-0.84zM332.3 125.2h0.84v0.84h-0.84zM332.5 117.1h0.84v0.84h-0.84zM353.5 89.1h0.84v0.84h-0.84zM331.0 118.6h0.84v0.84h-0.84zM356.8 90.7h0.84v0.84h-0.84zM351.8 124.9h0.84v0.84h-0.84zM333.3 129.8h0.84v0.84h-0.84zM330.9 109.8h0.84v0.84h-0.84zM337.0 97.0h0.84v0.84h-0.84zM334.1 136.1h0.84v0.84h-0.84zM332.1 132.5h0.84v0.84h-0.84zM330.5 129.4h0.84v0.84h-0.84zM352.3 115.1h0.84v0.84h-0.84zM329.3 124.6h0.84v0.84h-0.84zM350.2 126.7h0.84v0.84h-0.84zM355.3 100.3h0.84v0.84h-0.84zM351.7 133.1h0.84v0.84h-0.84zM351.6 116.1h0.84v0.84h-0.84zM350.7 131.9h0.84v0.84h-0.84zM349.9 93.1h0.84v0.84h-0.84zM353.4 109.7h0.84v0.84h-0.84zM330.6 107.0h0.84v0.84h-0.84zM330.7 124.4h0.84v0.84h-0.84zM341.5 96.2h0.84v0.84h-0.84zM353.9 89.1h0.84v0.84h-0.84zM331.4 99.0h0.84v0.84h-0.84zM331.6 116.5h0.84v0.84h-0.84zM353.3 108.9h0.84v0.84h-0.84zM350.8 122.1h0.84v0.84h-0.84zM332.3 106.4h0.84v0.84h-0.84zM357.5 87.8h0.84v0.84h-0.84zM332.8 134.7h0.84v0.84h-0.84zM327.6 119.9h0.84v0.84h-0.84zM355.3 100.2h0.84v0.84h-0.84zM355.3 98.8h0.84v0.84h-0.84zM333.6 136.4h0.84v0.84h-0.84zM356.1 95.1h0.84v0.84h-0.84zM330.6 133.3h0.84v0.84h-0.84zM351.2 116.6h0.84v0.84h-0.84zM333.1 127.6h0.84v0.84h-0.84zM353.5 90.7h0.84v0.84h-0.84zM343.3 94.9h0.84v0.84h-0.84zM341.6 92.0h0.84v0.84h-0.84zM332.0 124.9h0.84v0.84h-0.84zM331.2 120.6h0.84v0.84h-0.84zM330.6 125.1h0.84v0.84h-0.84zM329.6 116.5h0.84v0.84h-0.84zM334.0 135.3h0.84v0.84h-0.84zM330.2 122.1h0.84v0.84h-0.84zM332.6 105.0h0.84v0.84h-0.84zM351.8 127.8h0.84v0.84h-0.84zM355.9 92.5h0.84v0.84h-0.84zM331.7 99.8h0.84v0.84h-0.84zM353.2 108.8h0.84v0.84h-0.84zM335.4 99.2h0.84v0.84h-0.84zM329.8 122.3h0.84v0.84h-0.84zM332.3 99.7h0.84v0.84h-0.84zM354.3 103.7h0.84v0.84h-0.84zM332.3 127.7h0.84v0.84h-0.84zM347.1 93.1h0.84v0.84h-0.84zM332.8 99.4h0.84v0.84h-0.84zM331.2 102.1h0.84v0.84h-0.84zM330.7 136.1h0.84v0.84h-0.84zM328.1 114.1h0.84v0.84h-0.84zM337.2 98.9h0.84v0.84h-0.84zM357.2 97.7h0.84v0.84h-0.84zM350.0 132.8h0.84v0.84h-0.84zM332.0 124.9h0.84v0.84h-0.84zM346.8 93.3h0.84v0.84h-0.84zM333.6 100.3h0.84v0.84h-0.84zM331.1 116.5h0.84v0.84h-0.84zM344.4 95.4h0.84v0.84h-0.84zM342.9 96.2h0.84v0.84h-0.84zM349.9 134.1h0.84v0.84h-0.84zM329.2 122.0h0.84v0.84h-0.84zM328.7 97.8h0.84v0.84h-0.84zM351.6 115.7h0.84v0.84h-0.84zM334.0 133.2h0.84v0.84h-0.84zM355.5 99.6h0.84v0.84h-0.84zM334.3 134.3h0.84v0.84h-0.84zM350.7 90.9h0.84v0.84h-0.84zM328.6 121.5h0.84v0.84h-0.84zM333.2 128.6h0.84v0.84h-0.84zM331.9 133.4h0.84v0.84h-0.84zM332.4 110.1h0.84v0.84h-0.84zM352.3 114.9h0.84v0.84h-0.84zM331.3 112.4h0.84v0.84h-0.84zM334.0 132.0h0.84v0.84h-0.84zM329.2 112.2h0.84v0.84h-0.84zM355.9 97.5h0.84v0.84h-0.84zM344.7 94.6h0.84v0.84h-0.84zM326.2 133.2h0.84v0.84h-0.84zM332.0 106.7h0.84v0.84h-0.84zM341.2 94.0h0.84v0.84h-0.84zM327.2 102.7h0.84v0.84h-0.84zM334.4 137.2h0.84v0.84h-0.84zM330.8 113.0h0.84v0.84h-0.84zM332.0 100.4h0.84v0.84h-0.84zM332.5 127.0h0.84v0.84h-0.84zM332.3 103.5h0.84v0.84h-0.84zM330.7 126.4h0.84v0.84h-0.84zM332.8 130.8h0.84v0.84h-0.84zM357.4 91.3h0.84v0.84h-0.84zM329.6 112.6h0.84v0.84h-0.84zM331.4 131.9h0.84v0.84h-0.84zM332.4 127.3h0.84v0.84h-0.84zM343.0 96.2h0.84v0.84h-0.84zM350.6 122.2h0.84v0.84h-0.84zM350.6 92.9h0.84v0.84h-0.84zM329.8 112.6h0.84v0.84h-0.84zM346.4 92.8h0.84v0.84h-0.84zM349.3 92.9h0.84v0.84h-0.84zM352.1 114.5h0.84v0.84h-0.84zM326.9 117.9h0.84v0.84h-0.84zM330.0 129.3h0.84v0.84h-0.84zM349.7 92.1h0.84v0.84h-0.84zM339.6 97.6h0.84v0.84h-0.84zM337.9 96.8h0.84v0.84h-0.84zM349.7 92.4h0.84v0.84h-0.84zM331.8 126.8h0.84v0.84h-0.84zM333.2 101.6h0.84v0.84h-0.84zM354.0 91.8h0.84v0.84h-0.84zM350.0 130.1h0.84v0.84h-0.84zM327.8 121.0h0.84v0.84h-0.84zM354.1 105.2h0.84v0.84h-0.84zM332.2 136.7h0.84v0.84h-0.84zM350.6 129.5h0.84v0.84h-0.84zM355.4 100.4h0.84v0.84h-0.84zM331.1 108.9h0.84v0.84h-0.84zM330.4 108.7h0.84v0.84h-0.84zM333.5 128.6h0.84v0.84h-0.84zM326.4 120.5h0.84v0.84h-0.84zM331.5 103.5h0.84v0.84h-0.84zM329.0 123.4h0.84v0.84h-0.84zM335.5 99.8h0.84v0.84h-0.84zM333.0 100.9h0.84v0.84h-0.84zM329.0 114.1h0.84v0.84h-0.84zM355.6 102.5h0.84v0.84h-0.84zM331.1 103.4h0.84v0.84h-0.84zM348.5 91.9h0.84v0.84h-0.84zM332.7 105.8h0.84v0.84h-0.84zM353.0 116.3h0.84v0.84h-0.84zM334.3 99.0h0.84v0.84h-0.84zM332.9 122.4h0.84v0.84h-0.84zM355.3 90.6h0.84v0.84h-0.84zM327.8 106.0h0.84v0.84h-0.84zM331.6 102.9h0.84v0.84h-0.84zM331.6 125.3h0.84v0.84h-0.84zM340.3 96.1h0.84v0.84h-0.84zM331.9 105.5h0.84v0.84h-0.84zM356.1 97.3h0.84v0.84h-0.84zM352.8 115.3h0.84v0.84h-0.84zM328.8 113.5h0.84v0.84h-0.84zM351.5 116.4h0.84v0.84h-0.84zM352.8 111.7h0.84v0.84h-0.84zM333.9 98.4h0.84v0.84h-0.84zM327.7 107.8h0.84v0.84h-0.84zM331.3 114.9h0.84v0.84h-0.84zM356.3 94.6h0.84v0.84h-0.84zM353.9 106.5h0.84v0.84h-0.84zM332.5 127.7h0.84v0.84h-0.84zM333.2 134.6h0.84v0.84h-0.84zM330.2 123.6h0.84v0.84h-0.84zM348.9 91.6h0.84v0.84h-0.84zM327.7 115.2h0.84v0.84h-0.84zM356.6 94.0h0.84v0.84h-0.84zM331.6 103.2h0.84v0.84h-0.84zM333.2 137.1h0.84v0.84h-0.84zM352.2 114.3h0.84v0.84h-0.84zM353.5 108.5h0.84v0.84h-0.84zM333.1 101.1h0.84v0.84h-0.84zM351.0 91.8h0.84v0.84h-0.84zM332.9 137.3h0.84v0.84h-0.84zM350.5 121.6h0.84v0.84h-0.84zM330.1 131.7h0.84v0.84h-0.84zM356.6 92.6h0.84v0.84h-0.84zM329.0 120.4h0.84v0.84h-0.84zM357.4 90.4h0.84v0.84h-0.84zM347.4 92.0h0.84v0.84h-0.84zM330.8 136.4h0.84v0.84h-0.84zM334.4 136.2h0.84v0.84h-0.84zM336.4 99.5h0.84v0.84h-0.84zM351.8 115.3h0.84v0.84h-0.84zM333.5 128.9h0.84v0.84h-0.84zM330.3 107.4h0.84v0.84h-0.84zM326.3 123.2h0.84v0.84h-0.84zM333.4 128.2h0.84v0.84h-0.84zM343.1 94.3h0.84v0.84h-0.84zM357.2 95.5h0.84v0.84h-0.84zM330.4 110.1h0.84v0.84h-0.84zM336.7 97.5h0.84v0.84h-0.84zM354.7 98.8h0.84v0.84h-0.84zM349.9 134.6h0.84v0.84h-0.84zM331.1 130.7h0.84v0.84h-0.84zM334.0 134.1h0.84v0.84h-0.84zM332.2 102.8h0.84v0.84h-0.84zM332.2 115.4h0.84v0.84h-0.84zM350.0 134.8h0.84v0.84h-0.84zM333.6 98.6h0.84v0.84h-0.84zM355.3 96.8h0.84v0.84h-0.84zM329.7 98.5h0.84v0.84h-0.84zM351.1 90.4h0.84v0.84h-0.84zM332.4 126.8h0.84v0.84h-0.84zM353.4 111.5h0.84v0.84h-0.84zM328.8 111.9h0.84v0.84h-0.84zM356.8 95.6h0.84v0.84h-0.84zM352.6 92.1h0.84v0.84h-0.84zM348.6 92.0h0.84v0.84h-0.84zM332.0 120.1h0.84v0.84h-0.84zM334.9 99.2h0.84v0.84h-0.84zM333.4 129.7h0.84v0.84h-0.84zM352.2 116.5h0.84v0.84h-0.84zM331.8 99.3h0.84v0.84h-0.84zM326.8 116.0h0.84v0.84h-0.84zM351.3 123.1h0.84v0.84h-0.84zM330.3 122.3h0.84v0.84h-0.84zM353.4 111.7h0.84v0.84h-0.84zM329.2 130.7h0.84v0.84h-0.84zM354.8 99.8h0.84v0.84h-0.84zM352.4 111.5h0.84v0.84h-0.84zM352.4 113.9h0.84v0.84h-0.84zM334.4 134.7h0.84v0.84h-0.84zM330.0 103.6h0.84v0.84h-0.84zM343.3 93.2h0.84v0.84h-0.84zM334.6 135.8h0.84v0.84h-0.84zM328.0 114.6h0.84v0.84h-0.84zM332.5 98.7h0.84v0.84h-0.84zM333.3 128.3h0.84v0.84h-0.84zM331.4 119.8h0.84v0.84h-0.84zM333.7 133.5h0.84v0.84h-0.84zM352.6 91.7h0.84v0.84h-0.84zM330.4 103.4h0.84v0.84h-0.84zM354.2 109.4h0.84v0.84h-0.84zM332.0 111.2h0.84v0.84h-0.84zM348.5 91.7h0.84v0.84h-0.84zM329.6 129.8h0.84v0.84h-0.84zM329.7 102.7h0.84v0.84h-0.84zM330.8 118.0h0.84v0.84h-0.84zM355.2 89.6h0.84v0.84h-0.84zM354.6 99.9h0.84v0.84h-0.84zM331.3 110.3h0.84v0.84h-0.84zM333.4 129.1h0.84v0.84h-0.84zM333.5 134.7h0.84v0.84h-0.84zM347.0 92.9h0.84v0.84h-0.84zM334.6 100.2h0.84v0.84h-0.84zM327.6 103.1h0.84v0.84h-0.84zM358.3 90.1h0.84v0.84h-0.84zM355.4 88.3h0.84v0.84h-0.84zM351.5 121.1h0.84v0.84h-0.84zM352.1 92.1h0.84v0.84h-0.84zM349.9 136.1h0.84v0.84h-0.84zM355.9 95.0h0.84v0.84h-0.84zM330.0 110.8h0.84v0.84h-0.84zM335.1 99.7h0.84v0.84h-0.84zM355.8 96.2h0.84v0.84h-0.84zM331.5 130.5h0.84v0.84h-0.84zM329.0 123.9h0.84v0.84h-0.84zM331.9 102.2h0.84v0.84h-0.84zM350.4 133.6h0.84v0.84h-0.84zM328.0 128.3h0.84v0.84h-0.84zM356.4 91.7h0.84v0.84h-0.84zM331.0 118.2h0.84v0.84h-0.84zM356.4 93.6h0.84v0.84h-0.84zM333.3 128.8h0.84v0.84h-0.84zM329.8 133.0h0.84v0.84h-0.84zM346.3 92.7h0.84v0.84h-0.84zM331.8 119.2h0.84v0.84h-0.84zM327.4 97.6h0.84v0.84h-0.84zM347.5 92.6h0.84v0.84h-0.84zM330.6 118.8h0.84v0.84h-0.84zM351.6 135.6h0.84v0.84h-0.84zM327.7 115.2h0.84v0.84h-0.84zM333.7 131.8h0.84v0.84h-0.84zM332.2 113.4h0.84v0.84h-0.84zM354.3 107.4h0.84v0.84h-0.84zM333.0 103.5h0.84v0.84h-0.84zM329.9 111.3h0.84v0.84h-0.84zM332.3 119.9h0.84v0.84h-0.84zM332.3 122.1h0.84v0.84h-0.84zM327.1 102.1h0.84v0.84h-0.84zM325.2 118.3h0.84v0.84h-0.84zM354.6 103.4h0.84v0.84h-0.84zM331.8 112.0h0.84v0.84h-0.84zM330.0 126.3h0.84v0.84h-0.84zM354.7 101.6h0.84v0.84h-0.84zM330.3 114.2h0.84v0.84h-0.84zM355.2 105.5h0.84v0.84h-0.84zM331.4 104.4h0.84v0.84h-0.84zM330.5 110.9h0.84v0.84h-0.84zM327.3 111.3h0.84v0.84h-0.84zM350.6 121.4h0.84v0.84h-0.84zM332.3 101.7h0.84v0.84h-0.84zM333.8 99.0h0.84v0.84h-0.84zM329.4 119.2h0.84v0.84h-0.84zM330.2 108.2h0.84v0.84h-0.84zM349.7 128.9h0.84v0.84h-0.84zM329.6 119.5h0.84v0.84h-0.84zM328.4 110.7h0.84v0.84h-0.84zM355.6 96.1h0.84v0.84h-0.84zM328.1 121.1h0.84v0.84h-0.84zM348.4 92.0h0.84v0.84h-0.84zM353.6 107.6h0.84v0.84h-0.84zM331.7 113.1h0.84v0.84h-0.84zM329.7 101.1h0.84v0.84h-0.84zM326.0 103.1h0.84v0.84h-0.84zM329.2 130.4h0.84v0.84h-0.84zM351.7 116.9h0.84v0.84h-0.84zM332.6 108.3h0.84v0.84h-0.84zM332.4 106.2h0.84v0.84h-0.84zM331.0 131.9h0.84v0.84h-0.84zM350.7 121.8h0.84v0.84h-0.84zM330.0 114.3h0.84v0.84h-0.84zM349.4 93.1h0.84v0.84h-0.84zM354.0 91.7h0.84v0.84h-0.84zM353.9 105.7h0.84v0.84h-0.84zM331.0 123.8h0.84v0.84h-0.84zM332.5 123.9h0.84v0.84h-0.84zM333.0 129.0h0.84v0.84h-0.84zM353.2 89.3h0.84v0.84h-0.84zM332.9 126.5h0.84v0.84h-0.84zM332.9 101.9h0.84v0.84h-0.84zM354.2 105.1h0.84v0.84h-0.84zM332.6 120.8h0.84v0.84h-0.84zM331.9 117.7h0.84v0.84h-0.84zM328.3 126.5h0.84v0.84h-0.84zM328.3 122.4h0.84v0.84h-0.84zM335.9 98.6h0.84v0.84h-0.84zM331.9 110.2h0.84v0.84h-0.84zM327.4 107.5h0.84v0.84h-0.84zM349.7 132.3h0.84v0.84h-0.84zM356.1 91.9h0.84v0.84h-0.84zM356.2 98.1h0.84v0.84h-0.84zM332.0 136.0h0.84v0.84h-0.84zM330.7 122.6h0.84v0.84h-0.84zM333.7 132.9h0.84v0.84h-0.84zM356.8 94.6h0.84v0.84h-0.84zM337.7 98.0h0.84v0.84h-0.84zM337.6 95.5h0.84v0.84h-0.84zM326.1 100.7h0.84v0.84h-0.84zM355.1 105.3h0.84v0.84h-0.84zM333.3 134.7h0.84v0.84h-0.84zM348.6 138.2h0.84v0.84h-0.84zM330.1 107.6h0.84v0.84h-0.84zM330.8 98.9h0.84v0.84h-0.84zM353.3 109.2h0.84v0.84h-0.84zM328.5 118.8h0.84v0.84h-0.84zM345.1 92.5h0.84v0.84h-0.84zM332.7 131.7h0.84v0.84h-0.84zM332.9 124.7h0.84v0.84h-0.84zM354.6 91.0h0.84v0.84h-0.84zM349.3 137.5h0.84v0.84h-0.84zM330.5 132.2h0.84v0.84h-0.84zM332.6 127.9h0.84v0.84h-0.84zM339.7 97.6h0.84v0.84h-0.84zM326.9 110.8h0.84v0.84h-0.84zM337.3 98.6h0.84v0.84h-0.84zM327.0 128.3h0.84v0.84h-0.84zM353.2 88.6h0.84v0.84h-0.84zM332.2 101.7h0.84v0.84h-0.84zM330.5 131.7h0.84v0.84h-0.84zM350.1 93.2h0.84v0.84h-0.84zM327.0 118.6h0.84v0.84h-0.84zM330.5 109.1h0.84v0.84h-0.84zM350.4 126.7h0.84v0.84h-0.84zM331.8 117.1h0.84v0.84h-0.84z" fill="#2a10f2" opacity="0.95"/>
<path d="M328.7 123.7h0.80v0.80h-0.80zM334.2 137.2h0.80v0.80h-0.80zM330.2 111.4h0.80v0.80h-0.80zM332.7 106.1h0.80v0.80h-0.80zM348.2 92.6h0.80v0.80h-0.80zM328.4 111.1h0.80v0.80h-0.80zM354.5 102.9h0.80v0.80h-0.80zM351.1 91.6h0.80v0.80h-0.80zM351.0 119.1h0.80v0.80h-0.80zM333.2 132.5h0.80v0.80h-0.80zM330.7 107.6h0.80v0.80h-0.80zM332.9 130.3h0.80v0.80h-0.80zM332.7 130.0h0.80v0.80h-0.80zM355.9 96.1h0.80v0.80h-0.80zM354.9 105.8h0.80v0.80h-0.80zM325.4 119.9h0.80v0.80h-0.80zM347.8 93.0h0.80v0.80h-0.80zM331.5 109.0h0.80v0.80h-0.80zM332.0 120.6h0.80v0.80h-0.80zM329.3 98.2h0.80v0.80h-0.80zM334.0 132.8h0.80v0.80h-0.80zM330.7 116.8h0.80v0.80h-0.80zM332.1 132.6h0.80v0.80h-0.80zM340.9 96.4h0.80v0.80h-0.80zM335.7 99.3h0.80v0.80h-0.80zM327.6 103.1h0.80v0.80h-0.80zM356.1 96.5h0.80v0.80h-0.80zM328.2 113.9h0.80v0.80h-0.80zM338.4 94.5h0.80v0.80h-0.80zM327.7 117.3h0.80v0.80h-0.80zM332.5 101.7h0.80v0.80h-0.80zM329.8 101.7h0.80v0.80h-0.80zM343.1 93.6h0.80v0.80h-0.80zM333.1 138.1h0.80v0.80h-0.80zM332.4 112.7h0.80v0.80h-0.80zM352.0 114.7h0.80v0.80h-0.80zM333.5 128.0h0.80v0.80h-0.80zM332.4 128.5h0.80v0.80h-0.80zM336.9 98.5h0.80v0.80h-0.80zM357.1 95.2h0.80v0.80h-0.80zM330.4 120.4h0.80v0.80h-0.80zM341.4 93.7h0.80v0.80h-0.80zM350.8 120.9h0.80v0.80h-0.80zM331.1 120.2h0.80v0.80h-0.80zM328.7 127.2h0.80v0.80h-0.80zM340.3 95.7h0.80v0.80h-0.80zM332.0 135.8h0.80v0.80h-0.80zM331.9 108.2h0.80v0.80h-0.80zM329.1 119.3h0.80v0.80h-0.80zM329.0 102.9h0.80v0.80h-0.80zM331.1 111.8h0.80v0.80h-0.80zM355.7 93.2h0.80v0.80h-0.80zM336.0 96.7h0.80v0.80h-0.80zM331.5 115.1h0.80v0.80h-0.80zM330.4 105.9h0.80v0.80h-0.80zM330.7 102.6h0.80v0.80h-0.80zM332.3 118.8h0.80v0.80h-0.80zM353.2 107.8h0.80v0.80h-0.80zM356.0 93.8h0.80v0.80h-0.80zM350.2 92.6h0.80v0.80h-0.80zM332.0 136.7h0.80v0.80h-0.80zM328.9 113.3h0.80v0.80h-0.80zM349.5 92.5h0.80v0.80h-0.80zM331.4 130.4h0.80v0.80h-0.80zM334.0 132.2h0.80v0.80h-0.80zM349.9 134.5h0.80v0.80h-0.80zM338.2 97.6h0.80v0.80h-0.80zM329.2 122.2h0.80v0.80h-0.80zM355.3 89.7h0.80v0.80h-0.80zM333.2 127.5h0.80v0.80h-0.80zM325.6 117.1h0.80v0.80h-0.80zM338.8 94.5h0.80v0.80h-0.80zM330.7 114.8h0.80v0.80h-0.80zM330.1 106.6h0.80v0.80h-0.80zM326.8 105.6h0.80v0.80h-0.80zM330.6 113.6h0.80v0.80h-0.80zM353.7 108.4h0.80v0.80h-0.80zM328.7 134.5h0.80v0.80h-0.80zM332.2 138.0h0.80v0.80h-0.80zM353.9 110.5h0.80v0.80h-0.80zM331.8 125.9h0.80v0.80h-0.80zM332.5 125.1h0.80v0.80h-0.80zM330.9 125.5h0.80v0.80h-0.80zM351.5 120.2h0.80v0.80h-0.80zM353.5 89.7h0.80v0.80h-0.80zM331.1 114.0h0.80v0.80h-0.80zM325.8 113.9h0.80v0.80h-0.80zM351.5 119.1h0.80v0.80h-0.80zM356.8 90.4h0.80v0.80h-0.80zM354.6 90.9h0.80v0.80h-0.80zM326.8 119.0h0.80v0.80h-0.80zM351.0 92.6h0.80v0.80h-0.80zM331.5 116.5h0.80v0.80h-0.80zM324.9 111.6h0.80v0.80h-0.80zM342.0 93.1h0.80v0.80h-0.80zM357.3 88.8h0.80v0.80h-0.80zM349.6 137.1h0.80v0.80h-0.80zM327.9 107.0h0.80v0.80h-0.80zM350.7 131.6h0.80v0.80h-0.80zM330.6 115.2h0.80v0.80h-0.80zM353.2 106.9h0.80v0.80h-0.80zM328.4 128.2h0.80v0.80h-0.80zM350.7 91.9h0.80v0.80h-0.80zM332.9 133.1h0.80v0.80h-0.80zM329.6 107.5h0.80v0.80h-0.80zM327.0 134.6h0.80v0.80h-0.80zM351.3 121.6h0.80v0.80h-0.80zM330.8 120.1h0.80v0.80h-0.80zM333.4 101.8h0.80v0.80h-0.80zM328.1 102.6h0.80v0.80h-0.80zM327.2 122.1h0.80v0.80h-0.80zM354.4 105.5h0.80v0.80h-0.80zM350.9 124.4h0.80v0.80h-0.80zM330.0 105.1h0.80v0.80h-0.80zM330.9 119.6h0.80v0.80h-0.80zM331.3 111.7h0.80v0.80h-0.80zM326.9 131.6h0.80v0.80h-0.80zM332.8 130.5h0.80v0.80h-0.80zM332.9 98.4h0.80v0.80h-0.80zM330.8 133.5h0.80v0.80h-0.80zM330.4 116.4h0.80v0.80h-0.80zM351.2 92.1h0.80v0.80h-0.80zM338.1 97.3h0.80v0.80h-0.80zM352.9 108.7h0.80v0.80h-0.80zM348.6 92.6h0.80v0.80h-0.80zM353.8 88.1h0.80v0.80h-0.80zM330.0 122.2h0.80v0.80h-0.80zM328.4 109.8h0.80v0.80h-0.80zM331.3 135.6h0.80v0.80h-0.80zM328.6 115.1h0.80v0.80h-0.80z" fill="#6a60f4" opacity="0.9"/>
<path d="M354.3,51.9 L355.7,54.0 L354.6,58.0 L352.8,63.0 L351.5,68.0 L350.2,73.0 L349.4,78.0 L348.6,83.0 L347.6,88.0 L346.0,91.0 L344.5,88.0 L342.4,84.0 L341.0,80.0 L340.6,76.4 L339.0,73.5 L337.5,70.0 L337.5,66.5 L339.0,64.0 L341.0,61.5 L343.8,59.6 L347.0,57.5 L350.5,55.0 L352.6,53.0 Z" fill="#f0601e"/>
<path d="M354.0,53.5 L352.5,60.0 L350.5,67.0 L349.0,74.0 L347.8,82.0 L346.2,89.0 L344.5,84.0 L343.0,78.0 L341.5,72.0 L341.0,67.0 L343.5,62.0 L348.0,57.5 Z" fill="#ec5210"/>
<path d="M349.9 60.5h0.80v0.80h-0.80zM344.1 87.0h0.80v0.80h-0.80zM346.3 62.4h0.80v0.80h-0.80zM348.0 63.0h0.80v0.80h-0.80zM345.2 70.8h0.80v0.80h-0.80zM346.6 79.6h0.80v0.80h-0.80zM340.0 70.9h0.80v0.80h-0.80zM347.9 72.5h0.80v0.80h-0.80zM347.3 63.6h0.80v0.80h-0.80zM339.4 72.9h0.80v0.80h-0.80zM347.6 65.7h0.80v0.80h-0.80zM348.3 77.8h0.80v0.80h-0.80zM341.4 75.8h0.80v0.80h-0.80zM345.3 75.7h0.80v0.80h-0.80zM342.0 68.6h0.80v0.80h-0.80zM340.4 72.6h0.80v0.80h-0.80zM347.5 74.9h0.80v0.80h-0.80zM338.4 68.9h0.80v0.80h-0.80zM342.8 70.1h0.80v0.80h-0.80zM345.8 71.0h0.80v0.80h-0.80zM346.3 75.4h0.80v0.80h-0.80zM344.4 61.3h0.80v0.80h-0.80zM346.0 79.5h0.80v0.80h-0.80zM346.4 58.9h0.80v0.80h-0.80zM342.7 67.0h0.80v0.80h-0.80zM345.0 74.3h0.80v0.80h-0.80zM344.3 80.1h0.80v0.80h-0.80zM344.1 62.8h0.80v0.80h-0.80zM344.8 64.5h0.80v0.80h-0.80zM342.5 83.1h0.80v0.80h-0.80zM347.8 65.1h0.80v0.80h-0.80zM345.3 81.1h0.80v0.80h-0.80zM347.0 68.9h0.80v0.80h-0.80zM352.4 55.3h0.80v0.80h-0.80zM345.4 68.7h0.80v0.80h-0.80zM342.3 75.2h0.80v0.80h-0.80zM350.2 69.6h0.80v0.80h-0.80zM338.0 67.6h0.80v0.80h-0.80zM344.5 73.4h0.80v0.80h-0.80zM349.3 66.0h0.80v0.80h-0.80zM350.3 63.0h0.80v0.80h-0.80zM341.6 68.6h0.80v0.80h-0.80zM341.9 70.1h0.80v0.80h-0.80zM340.4 75.4h0.80v0.80h-0.80zM347.6 65.8h0.80v0.80h-0.80zM341.6 68.4h0.80v0.80h-0.80zM348.0 82.7h0.80v0.80h-0.80zM345.0 59.2h0.80v0.80h-0.80zM340.2 72.6h0.80v0.80h-0.80zM347.6 77.5h0.80v0.80h-0.80zM344.3 61.1h0.80v0.80h-0.80zM344.4 79.6h0.80v0.80h-0.80zM343.1 72.3h0.80v0.80h-0.80zM347.4 75.2h0.80v0.80h-0.80zM345.4 81.4h0.80v0.80h-0.80zM350.1 60.8h0.80v0.80h-0.80zM343.0 75.7h0.80v0.80h-0.80zM346.8 71.6h0.80v0.80h-0.80zM345.0 63.2h0.80v0.80h-0.80zM342.9 76.2h0.80v0.80h-0.80z" fill="#f8b088" opacity="0.9"/>
<path d="M351.2 76.2h0.84v0.84h-0.84zM357.1 57.6h0.84v0.84h-0.84zM348.8 90.1h0.84v0.84h-0.84zM341.6 83.4h0.84v0.84h-0.84zM337.3 70.2h0.84v0.84h-0.84zM333.6 65.5h0.84v0.84h-0.84zM340.3 61.9h0.84v0.84h-0.84zM350.9 71.7h0.84v0.84h-0.84zM350.2 77.7h0.84v0.84h-0.84zM337.7 65.6h0.84v0.84h-0.84zM342.3 90.5h0.84v0.84h-0.84zM345.5 90.4h0.84v0.84h-0.84zM342.7 85.2h0.84v0.84h-0.84zM340.2 86.7h0.84v0.84h-0.84zM336.3 70.5h0.84v0.84h-0.84zM354.0 68.5h0.84v0.84h-0.84zM339.0 62.3h0.84v0.84h-0.84zM339.1 62.1h0.84v0.84h-0.84zM334.2 78.7h0.84v0.84h-0.84zM337.6 76.1h0.84v0.84h-0.84zM343.5 86.5h0.84v0.84h-0.84zM351.8 72.4h0.84v0.84h-0.84zM342.8 85.7h0.84v0.84h-0.84zM335.4 68.6h0.84v0.84h-0.84zM349.8 83.7h0.84v0.84h-0.84zM336.2 63.1h0.84v0.84h-0.84zM349.0 83.1h0.84v0.84h-0.84zM348.9 90.0h0.84v0.84h-0.84zM347.3 89.3h0.84v0.84h-0.84zM340.5 59.6h0.84v0.84h-0.84zM335.0 75.2h0.84v0.84h-0.84zM349.5 88.1h0.84v0.84h-0.84zM331.7 68.7h0.84v0.84h-0.84zM334.7 81.1h0.84v0.84h-0.84zM339.8 79.6h0.84v0.84h-0.84zM333.1 70.4h0.84v0.84h-0.84zM349.9 85.6h0.84v0.84h-0.84zM338.1 78.5h0.84v0.84h-0.84zM342.5 88.0h0.84v0.84h-0.84zM344.8 89.6h0.84v0.84h-0.84zM347.5 89.2h0.84v0.84h-0.84zM340.5 61.7h0.84v0.84h-0.84zM350.8 75.6h0.84v0.84h-0.84zM338.1 83.8h0.84v0.84h-0.84zM340.1 78.9h0.84v0.84h-0.84zM334.0 66.2h0.84v0.84h-0.84zM337.6 79.3h0.84v0.84h-0.84zM338.6 75.9h0.84v0.84h-0.84zM346.8 91.4h0.84v0.84h-0.84zM343.3 89.8h0.84v0.84h-0.84zM351.8 72.4h0.84v0.84h-0.84zM353.3 67.2h0.84v0.84h-0.84zM340.5 78.3h0.84v0.84h-0.84zM352.1 71.4h0.84v0.84h-0.84zM353.0 62.9h0.84v0.84h-0.84zM352.4 75.5h0.84v0.84h-0.84zM340.0 78.5h0.84v0.84h-0.84zM344.0 90.9h0.84v0.84h-0.84zM336.5 72.8h0.84v0.84h-0.84zM335.5 67.9h0.84v0.84h-0.84zM331.9 80.5h0.84v0.84h-0.84zM342.3 85.1h0.84v0.84h-0.84zM331.5 64.3h0.84v0.84h-0.84zM344.9 89.0h0.84v0.84h-0.84zM341.7 87.5h0.84v0.84h-0.84zM333.9 81.9h0.84v0.84h-0.84zM331.4 69.3h0.84v0.84h-0.84zM335.3 67.2h0.84v0.84h-0.84zM335.4 70.6h0.84v0.84h-0.84zM338.0 83.6h0.84v0.84h-0.84zM338.6 84.0h0.84v0.84h-0.84zM346.3 91.0h0.84v0.84h-0.84zM351.7 72.1h0.84v0.84h-0.84zM338.7 76.5h0.84v0.84h-0.84zM339.5 76.8h0.84v0.84h-0.84zM354.8 62.1h0.84v0.84h-0.84zM337.2 72.9h0.84v0.84h-0.84zM348.9 84.8h0.84v0.84h-0.84zM337.4 73.3h0.84v0.84h-0.84zM338.3 73.6h0.84v0.84h-0.84zM338.5 81.4h0.84v0.84h-0.84zM340.9 88.1h0.84v0.84h-0.84zM333.4 68.9h0.84v0.84h-0.84zM340.4 89.9h0.84v0.84h-0.84zM339.5 77.6h0.84v0.84h-0.84zM342.7 85.2h0.84v0.84h-0.84zM343.1 59.4h0.84v0.84h-0.84zM352.2 71.3h0.84v0.84h-0.84zM342.9 87.1h0.84v0.84h-0.84zM336.0 72.5h0.84v0.84h-0.84zM351.1 74.3h0.84v0.84h-0.84zM336.1 60.8h0.84v0.84h-0.84zM340.5 83.6h0.84v0.84h-0.84zM343.4 59.1h0.84v0.84h-0.84zM349.8 81.0h0.84v0.84h-0.84zM349.4 81.4h0.84v0.84h-0.84zM342.5 88.3h0.84v0.84h-0.84zM336.6 79.1h0.84v0.84h-0.84zM353.7 67.4h0.84v0.84h-0.84zM334.5 87.0h0.84v0.84h-0.84zM351.4 69.0h0.84v0.84h-0.84zM338.0 64.1h0.84v0.84h-0.84zM338.3 82.4h0.84v0.84h-0.84zM343.0 86.5h0.84v0.84h-0.84zM339.1 85.5h0.84v0.84h-0.84zM348.8 83.6h0.84v0.84h-0.84zM345.9 92.1h0.84v0.84h-0.84zM350.7 82.2h0.84v0.84h-0.84zM341.2 58.9h0.84v0.84h-0.84zM335.5 82.3h0.84v0.84h-0.84zM349.8 77.4h0.84v0.84h-0.84zM341.6 82.2h0.84v0.84h-0.84zM344.7 55.0h0.84v0.84h-0.84zM336.2 71.1h0.84v0.84h-0.84zM339.8 76.1h0.84v0.84h-0.84zM337.3 77.3h0.84v0.84h-0.84zM338.8 86.8h0.84v0.84h-0.84zM350.2 82.3h0.84v0.84h-0.84zM353.7 62.6h0.84v0.84h-0.84zM354.2 62.2h0.84v0.84h-0.84zM342.3 90.2h0.84v0.84h-0.84zM336.2 76.3h0.84v0.84h-0.84zM346.5 55.2h0.84v0.84h-0.84zM351.1 85.3h0.84v0.84h-0.84zM335.8 71.7h0.84v0.84h-0.84zM353.0 74.6h0.84v0.84h-0.84zM338.2 72.4h0.84v0.84h-0.84zM337.7 75.3h0.84v0.84h-0.84zM336.3 72.1h0.84v0.84h-0.84zM339.0 81.6h0.84v0.84h-0.84zM335.2 69.2h0.84v0.84h-0.84zM351.2 80.6h0.84v0.84h-0.84zM350.9 71.5h0.84v0.84h-0.84zM339.5 80.3h0.84v0.84h-0.84zM339.8 80.6h0.84v0.84h-0.84zM347.3 90.7h0.84v0.84h-0.84zM332.4 67.8h0.84v0.84h-0.84zM354.7 61.3h0.84v0.84h-0.84zM339.0 75.1h0.84v0.84h-0.84zM338.5 76.2h0.84v0.84h-0.84zM351.7 75.2h0.84v0.84h-0.84zM336.7 69.5h0.84v0.84h-0.84zM337.5 74.2h0.84v0.84h-0.84zM337.2 71.7h0.84v0.84h-0.84zM340.1 80.7h0.84v0.84h-0.84zM338.5 63.9h0.84v0.84h-0.84zM352.4 74.0h0.84v0.84h-0.84zM340.7 89.3h0.84v0.84h-0.84zM354.6 51.9h0.84v0.84h-0.84zM332.9 68.4h0.84v0.84h-0.84zM337.7 74.4h0.84v0.84h-0.84zM340.1 89.2h0.84v0.84h-0.84zM351.1 71.1h0.84v0.84h-0.84zM355.2 57.9h0.84v0.84h-0.84zM349.5 90.0h0.84v0.84h-0.84zM350.9 78.8h0.84v0.84h-0.84zM350.1 73.7h0.84v0.84h-0.84zM349.6 77.9h0.84v0.84h-0.84zM338.8 82.3h0.84v0.84h-0.84zM339.4 78.7h0.84v0.84h-0.84zM351.2 74.7h0.84v0.84h-0.84zM338.0 73.1h0.84v0.84h-0.84zM350.1 76.5h0.84v0.84h-0.84zM348.0 90.7h0.84v0.84h-0.84zM347.2 90.6h0.84v0.84h-0.84zM335.1 70.1h0.84v0.84h-0.84zM340.5 86.2h0.84v0.84h-0.84zM339.8 78.1h0.84v0.84h-0.84zM340.4 59.9h0.84v0.84h-0.84zM350.8 72.9h0.84v0.84h-0.84zM355.1 62.4h0.84v0.84h-0.84zM339.1 85.2h0.84v0.84h-0.84zM335.7 73.7h0.84v0.84h-0.84zM348.3 86.3h0.84v0.84h-0.84zM350.2 75.8h0.84v0.84h-0.84zM340.4 77.4h0.84v0.84h-0.84zM339.2 78.1h0.84v0.84h-0.84zM340.5 79.0h0.84v0.84h-0.84zM348.0 86.8h0.84v0.84h-0.84zM343.4 58.6h0.84v0.84h-0.84zM355.5 65.6h0.84v0.84h-0.84zM333.9 74.0h0.84v0.84h-0.84zM333.4 84.2h0.84v0.84h-0.84zM332.6 66.6h0.84v0.84h-0.84zM348.7 82.4h0.84v0.84h-0.84zM334.2 66.6h0.84v0.84h-0.84zM340.3 81.9h0.84v0.84h-0.84zM351.7 70.3h0.84v0.84h-0.84zM351.5 74.0h0.84v0.84h-0.84zM348.1 86.6h0.84v0.84h-0.84zM340.6 86.8h0.84v0.84h-0.84zM338.1 84.9h0.84v0.84h-0.84zM340.3 86.4h0.84v0.84h-0.84zM347.2 91.7h0.84v0.84h-0.84zM340.2 81.2h0.84v0.84h-0.84zM350.0 82.8h0.84v0.84h-0.84zM332.7 70.2h0.84v0.84h-0.84zM349.1 83.3h0.84v0.84h-0.84zM343.6 91.0h0.84v0.84h-0.84zM353.6 68.3h0.84v0.84h-0.84zM349.7 53.7h0.84v0.84h-0.84zM352.9 63.7h0.84v0.84h-0.84zM335.2 72.7h0.84v0.84h-0.84zM351.4 69.1h0.84v0.84h-0.84zM345.3 89.8h0.84v0.84h-0.84zM340.0 77.0h0.84v0.84h-0.84zM349.1 81.2h0.84v0.84h-0.84zM335.4 63.6h0.84v0.84h-0.84zM333.3 69.6h0.84v0.84h-0.84zM351.0 82.2h0.84v0.84h-0.84zM349.9 76.6h0.84v0.84h-0.84zM344.2 89.7h0.84v0.84h-0.84zM340.5 77.4h0.84v0.84h-0.84zM349.3 78.8h0.84v0.84h-0.84zM337.7 65.7h0.84v0.84h-0.84zM340.9 79.7h0.84v0.84h-0.84zM351.1 69.9h0.84v0.84h-0.84zM351.9 67.3h0.84v0.84h-0.84zM341.3 84.7h0.84v0.84h-0.84zM331.3 69.0h0.84v0.84h-0.84zM332.9 69.7h0.84v0.84h-0.84zM343.1 87.8h0.84v0.84h-0.84zM350.9 78.0h0.84v0.84h-0.84zM338.2 78.6h0.84v0.84h-0.84zM338.9 80.6h0.84v0.84h-0.84zM354.1 63.6h0.84v0.84h-0.84zM338.5 79.3h0.84v0.84h-0.84zM335.7 67.0h0.84v0.84h-0.84zM340.2 77.8h0.84v0.84h-0.84zM335.6 82.2h0.84v0.84h-0.84zM339.1 81.5h0.84v0.84h-0.84zM356.0 59.9h0.84v0.84h-0.84zM337.5 73.1h0.84v0.84h-0.84zM333.1 73.2h0.84v0.84h-0.84zM338.8 60.5h0.84v0.84h-0.84zM345.4 91.2h0.84v0.84h-0.84zM352.8 68.7h0.84v0.84h-0.84zM350.0 76.7h0.84v0.84h-0.84zM347.4 91.5h0.84v0.84h-0.84zM336.1 82.1h0.84v0.84h-0.84zM339.7 77.1h0.84v0.84h-0.84zM339.6 82.4h0.84v0.84h-0.84zM350.3 82.4h0.84v0.84h-0.84zM348.9 81.7h0.84v0.84h-0.84zM351.3 80.5h0.84v0.84h-0.84zM344.0 87.3h0.84v0.84h-0.84zM347.2 90.6h0.84v0.84h-0.84zM344.7 88.8h0.84v0.84h-0.84zM335.3 68.3h0.84v0.84h-0.84zM350.9 87.2h0.84v0.84h-0.84zM336.8 66.0h0.84v0.84h-0.84zM337.8 63.7h0.84v0.84h-0.84zM351.2 75.4h0.84v0.84h-0.84zM352.6 74.9h0.84v0.84h-0.84zM339.8 79.4h0.84v0.84h-0.84zM343.5 91.3h0.84v0.84h-0.84zM335.0 69.6h0.84v0.84h-0.84zM340.5 83.2h0.84v0.84h-0.84zM342.9 85.2h0.84v0.84h-0.84zM351.1 83.0h0.84v0.84h-0.84zM343.3 88.2h0.84v0.84h-0.84zM338.3 72.3h0.84v0.84h-0.84zM339.2 74.9h0.84v0.84h-0.84zM336.5 83.0h0.84v0.84h-0.84zM346.5 90.5h0.84v0.84h-0.84zM335.6 76.0h0.84v0.84h-0.84zM340.9 87.4h0.84v0.84h-0.84zM340.2 80.9h0.84v0.84h-0.84zM338.0 76.9h0.84v0.84h-0.84zM347.1 90.5h0.84v0.84h-0.84zM336.6 71.7h0.84v0.84h-0.84zM344.8 91.8h0.84v0.84h-0.84zM337.3 65.3h0.84v0.84h-0.84zM350.5 75.2h0.84v0.84h-0.84zM336.9 70.3h0.84v0.84h-0.84zM351.9 67.2h0.84v0.84h-0.84zM349.7 78.9h0.84v0.84h-0.84zM349.9 76.3h0.84v0.84h-0.84zM340.5 78.5h0.84v0.84h-0.84zM353.3 68.2h0.84v0.84h-0.84zM337.6 78.8h0.84v0.84h-0.84zM348.4 84.7h0.84v0.84h-0.84zM341.9 85.2h0.84v0.84h-0.84zM336.0 71.2h0.84v0.84h-0.84zM333.2 69.1h0.84v0.84h-0.84zM338.6 88.7h0.84v0.84h-0.84zM338.2 81.0h0.84v0.84h-0.84zM335.7 71.2h0.84v0.84h-0.84zM349.9 77.5h0.84v0.84h-0.84zM341.8 87.7h0.84v0.84h-0.84z" fill="#f5a676" opacity="0.85"/>
<path d="M343.7 88.8h0.84v0.84h-0.84zM352.3 67.2h0.84v0.84h-0.84zM336.6 66.1h0.84v0.84h-0.84zM349.0 85.6h0.84v0.84h-0.84zM342.0 87.8h0.84v0.84h-0.84zM340.6 84.8h0.84v0.84h-0.84zM342.2 84.0h0.84v0.84h-0.84zM339.8 61.8h0.84v0.84h-0.84zM343.8 89.9h0.84v0.84h-0.84zM335.5 74.6h0.84v0.84h-0.84zM347.2 91.7h0.84v0.84h-0.84zM333.4 75.1h0.84v0.84h-0.84zM350.6 74.8h0.84v0.84h-0.84zM339.5 61.1h0.84v0.84h-0.84zM349.0 87.7h0.84v0.84h-0.84zM335.8 69.0h0.84v0.84h-0.84zM347.6 89.1h0.84v0.84h-0.84zM337.8 83.0h0.84v0.84h-0.84zM337.6 81.4h0.84v0.84h-0.84zM341.9 86.7h0.84v0.84h-0.84zM342.1 88.8h0.84v0.84h-0.84zM352.4 66.3h0.84v0.84h-0.84zM336.2 80.0h0.84v0.84h-0.84zM349.9 80.5h0.84v0.84h-0.84zM343.0 88.0h0.84v0.84h-0.84zM338.9 60.8h0.84v0.84h-0.84zM343.8 91.1h0.84v0.84h-0.84zM334.3 79.3h0.84v0.84h-0.84zM335.7 78.8h0.84v0.84h-0.84zM337.1 74.4h0.84v0.84h-0.84zM349.3 81.6h0.84v0.84h-0.84zM337.0 64.1h0.84v0.84h-0.84zM343.1 89.5h0.84v0.84h-0.84zM348.0 89.4h0.84v0.84h-0.84zM341.1 81.0h0.84v0.84h-0.84zM337.6 82.2h0.84v0.84h-0.84zM343.3 90.1h0.84v0.84h-0.84zM337.9 64.7h0.84v0.84h-0.84zM337.6 75.8h0.84v0.84h-0.84zM340.5 79.0h0.84v0.84h-0.84zM339.4 82.5h0.84v0.84h-0.84zM334.7 68.2h0.84v0.84h-0.84zM350.2 80.4h0.84v0.84h-0.84zM335.2 67.0h0.84v0.84h-0.84zM355.3 55.9h0.84v0.84h-0.84zM337.0 76.4h0.84v0.84h-0.84zM348.8 86.6h0.84v0.84h-0.84zM337.0 66.2h0.84v0.84h-0.84zM350.7 76.7h0.84v0.84h-0.84zM336.9 81.1h0.84v0.84h-0.84zM339.8 88.2h0.84v0.84h-0.84zM342.5 90.5h0.84v0.84h-0.84zM347.9 89.2h0.84v0.84h-0.84zM348.7 83.6h0.84v0.84h-0.84zM338.5 84.0h0.84v0.84h-0.84zM354.0 71.7h0.84v0.84h-0.84zM341.7 84.9h0.84v0.84h-0.84zM350.9 81.3h0.84v0.84h-0.84zM337.8 80.3h0.84v0.84h-0.84zM343.6 88.6h0.84v0.84h-0.84zM349.7 82.6h0.84v0.84h-0.84zM339.7 88.5h0.84v0.84h-0.84zM340.7 89.8h0.84v0.84h-0.84zM337.0 65.5h0.84v0.84h-0.84zM339.1 75.0h0.84v0.84h-0.84zM345.1 91.7h0.84v0.84h-0.84zM347.9 55.9h0.84v0.84h-0.84zM347.7 88.4h0.84v0.84h-0.84zM337.0 82.4h0.84v0.84h-0.84zM356.3 57.0h0.84v0.84h-0.84zM346.4 91.0h0.84v0.84h-0.84zM337.6 70.4h0.84v0.84h-0.84zM351.8 69.6h0.84v0.84h-0.84zM352.1 76.0h0.84v0.84h-0.84zM350.5 74.9h0.84v0.84h-0.84zM336.2 71.2h0.84v0.84h-0.84zM337.4 66.8h0.84v0.84h-0.84zM336.6 66.3h0.84v0.84h-0.84zM336.1 71.1h0.84v0.84h-0.84zM335.3 77.7h0.84v0.84h-0.84zM339.0 79.6h0.84v0.84h-0.84zM355.8 54.2h0.84v0.84h-0.84zM341.8 85.5h0.84v0.84h-0.84zM344.3 90.4h0.84v0.84h-0.84zM347.0 89.2h0.84v0.84h-0.84zM347.2 90.9h0.84v0.84h-0.84zM340.0 78.9h0.84v0.84h-0.84zM351.8 69.0h0.84v0.84h-0.84zM339.9 82.9h0.84v0.84h-0.84zM350.3 79.9h0.84v0.84h-0.84zM340.5 78.6h0.84v0.84h-0.84zM350.0 75.6h0.84v0.84h-0.84zM339.1 79.1h0.84v0.84h-0.84zM347.7 56.2h0.84v0.84h-0.84zM350.4 84.5h0.84v0.84h-0.84zM340.0 77.4h0.84v0.84h-0.84zM333.1 75.3h0.84v0.84h-0.84zM338.7 79.2h0.84v0.84h-0.84zM335.9 74.8h0.84v0.84h-0.84zM337.0 68.6h0.84v0.84h-0.84zM334.5 64.7h0.84v0.84h-0.84zM337.7 62.6h0.84v0.84h-0.84zM337.3 74.1h0.84v0.84h-0.84zM336.3 82.4h0.84v0.84h-0.84zM334.0 72.8h0.84v0.84h-0.84zM338.5 80.1h0.84v0.84h-0.84zM339.0 74.5h0.84v0.84h-0.84zM347.9 87.7h0.84v0.84h-0.84zM342.5 59.8h0.84v0.84h-0.84zM352.9 70.7h0.84v0.84h-0.84zM339.4 81.2h0.84v0.84h-0.84zM336.1 74.4h0.84v0.84h-0.84zM347.7 91.0h0.84v0.84h-0.84zM354.2 66.8h0.84v0.84h-0.84zM337.2 71.9h0.84v0.84h-0.84zM340.7 81.4h0.84v0.84h-0.84zM336.5 71.3h0.84v0.84h-0.84zM342.1 89.6h0.84v0.84h-0.84zM337.8 75.6h0.84v0.84h-0.84zM338.3 77.0h0.84v0.84h-0.84zM355.4 60.0h0.84v0.84h-0.84zM354.2 64.3h0.84v0.84h-0.84zM337.5 81.8h0.84v0.84h-0.84zM342.5 87.9h0.84v0.84h-0.84zM349.8 80.9h0.84v0.84h-0.84zM334.1 66.8h0.84v0.84h-0.84zM343.8 90.7h0.84v0.84h-0.84zM350.9 71.7h0.84v0.84h-0.84zM333.6 86.7h0.84v0.84h-0.84zM341.7 86.5h0.84v0.84h-0.84z" fill="#f05418" opacity="0.95"/>
<path d="M339.7 78.7h0.70v0.70h-0.70zM347.5 66.8h0.70v0.70h-0.70zM347.2 61.9h0.70v0.70h-0.70zM349.1 63.8h0.70v0.70h-0.70zM343.8 80.1h0.70v0.70h-0.70zM336.5 82.1h0.70v0.70h-0.70zM344.4 80.8h0.70v0.70h-0.70zM347.2 56.7h0.70v0.70h-0.70zM345.4 67.2h0.70v0.70h-0.70zM348.6 60.9h0.70v0.70h-0.70zM349.7 76.7h0.70v0.70h-0.70zM345.9 72.1h0.70v0.70h-0.70zM339.1 74.3h0.70v0.70h-0.70zM348.0 56.8h0.70v0.70h-0.70zM343.8 67.0h0.70v0.70h-0.70zM345.1 83.0h0.70v0.70h-0.70zM341.1 76.1h0.70v0.70h-0.70zM343.7 75.8h0.70v0.70h-0.70zM346.8 65.6h0.70v0.70h-0.70zM341.1 72.8h0.70v0.70h-0.70zM345.3 63.3h0.70v0.70h-0.70zM342.0 87.1h0.70v0.70h-0.70zM350.8 66.9h0.70v0.70h-0.70zM354.0 57.8h0.70v0.70h-0.70zM346.6 72.4h0.70v0.70h-0.70zM344.1 72.2h0.70v0.70h-0.70zM344.7 62.2h0.70v0.70h-0.70zM344.3 60.0h0.70v0.70h-0.70zM344.0 64.1h0.70v0.70h-0.70zM349.7 56.9h0.70v0.70h-0.70zM346.3 69.6h0.70v0.70h-0.70zM345.0 66.7h0.70v0.70h-0.70zM351.2 57.7h0.70v0.70h-0.70zM346.3 67.8h0.70v0.70h-0.70zM345.2 74.0h0.70v0.70h-0.70zM350.6 70.0h0.70v0.70h-0.70zM350.7 60.2h0.70v0.70h-0.70zM344.3 62.1h0.70v0.70h-0.70zM338.8 73.5h0.70v0.70h-0.70zM346.9 62.6h0.70v0.70h-0.70zM342.4 80.3h0.70v0.70h-0.70zM343.4 70.1h0.70v0.70h-0.70zM344.8 83.6h0.70v0.70h-0.70zM348.2 68.4h0.70v0.70h-0.70zM346.5 70.4h0.70v0.70h-0.70zM346.1 60.9h0.70v0.70h-0.70zM349.8 57.7h0.70v0.70h-0.70zM345.3 61.4h0.70v0.70h-0.70zM349.7 63.5h0.70v0.70h-0.70zM346.5 62.4h0.70v0.70h-0.70zM343.7 76.2h0.70v0.70h-0.70zM348.3 80.6h0.70v0.70h-0.70zM348.7 61.6h0.70v0.70h-0.70zM354.2 52.2h0.70v0.70h-0.70zM349.3 71.2h0.70v0.70h-0.70zM341.7 74.5h0.70v0.70h-0.70zM345.6 74.3h0.70v0.70h-0.70zM348.8 56.4h0.70v0.70h-0.70zM347.1 73.6h0.70v0.70h-0.70zM343.5 70.5h0.70v0.70h-0.70zM349.0 71.9h0.70v0.70h-0.70zM342.3 64.3h0.70v0.70h-0.70zM345.6 78.6h0.70v0.70h-0.70zM343.5 71.2h0.70v0.70h-0.70zM342.8 73.0h0.70v0.70h-0.70zM344.2 75.7h0.70v0.70h-0.70zM346.0 69.0h0.70v0.70h-0.70zM344.4 73.6h0.70v0.70h-0.70zM352.2 55.0h0.70v0.70h-0.70zM342.4 76.8h0.70v0.70h-0.70zM342.5 72.8h0.70v0.70h-0.70zM345.1 74.8h0.70v0.70h-0.70zM347.7 67.0h0.70v0.70h-0.70zM351.4 61.5h0.70v0.70h-0.70zM349.8 64.7h0.70v0.70h-0.70zM342.7 77.0h0.70v0.70h-0.70zM344.6 69.9h0.70v0.70h-0.70zM348.1 63.1h0.70v0.70h-0.70zM350.7 53.5h0.70v0.70h-0.70zM344.6 67.2h0.70v0.70h-0.70z" fill="#f8a878" opacity="0.9"/>
<path d="M461.0,138.2 L461.3,128.0 L462.5,118.0 L464.5,110.0 L467.0,105.0 L471.0,102.0 L476.0,101.0 L480.0,102.5 L482.3,106.0 L483.0,113.0 L483.0,125.0 L482.2,138.2 Z" fill="#36f612"/>
<path d="M463.7 106.1h0.84v0.84h-0.84zM460.1 122.7h0.84v0.84h-0.84zM463.1 112.5h0.84v0.84h-0.84zM481.0 102.1h0.84v0.84h-0.84zM458.9 119.8h0.84v0.84h-0.84zM483.3 117.6h0.84v0.84h-0.84zM484.9 112.9h0.84v0.84h-0.84zM459.2 135.7h0.84v0.84h-0.84zM460.0 130.0h0.84v0.84h-0.84zM457.6 120.5h0.84v0.84h-0.84zM480.0 102.3h0.84v0.84h-0.84zM461.2 128.2h0.84v0.84h-0.84zM484.4 112.5h0.84v0.84h-0.84zM457.9 121.5h0.84v0.84h-0.84zM459.6 109.1h0.84v0.84h-0.84zM465.6 105.7h0.84v0.84h-0.84zM458.9 126.7h0.84v0.84h-0.84zM463.2 106.8h0.84v0.84h-0.84zM485.5 129.4h0.84v0.84h-0.84zM468.6 101.4h0.84v0.84h-0.84zM482.9 127.3h0.84v0.84h-0.84zM459.3 136.1h0.84v0.84h-0.84zM483.8 107.3h0.84v0.84h-0.84zM482.7 130.2h0.84v0.84h-0.84zM483.3 118.0h0.84v0.84h-0.84zM469.5 101.3h0.84v0.84h-0.84zM467.1 103.0h0.84v0.84h-0.84zM459.2 124.0h0.84v0.84h-0.84zM456.8 121.6h0.84v0.84h-0.84zM457.1 119.2h0.84v0.84h-0.84zM472.6 101.7h0.84v0.84h-0.84zM460.0 122.7h0.84v0.84h-0.84zM460.7 127.9h0.84v0.84h-0.84zM458.3 117.1h0.84v0.84h-0.84zM457.4 109.3h0.84v0.84h-0.84zM460.3 131.1h0.84v0.84h-0.84zM468.0 102.1h0.84v0.84h-0.84zM460.5 113.4h0.84v0.84h-0.84zM465.7 103.9h0.84v0.84h-0.84zM484.7 108.9h0.84v0.84h-0.84zM461.1 132.5h0.84v0.84h-0.84zM464.9 107.3h0.84v0.84h-0.84zM457.6 112.3h0.84v0.84h-0.84zM461.1 126.2h0.84v0.84h-0.84zM460.4 121.1h0.84v0.84h-0.84zM475.3 97.8h0.84v0.84h-0.84zM483.0 129.4h0.84v0.84h-0.84zM459.0 120.1h0.84v0.84h-0.84zM459.7 130.8h0.84v0.84h-0.84zM484.4 133.5h0.84v0.84h-0.84zM462.2 113.9h0.84v0.84h-0.84zM461.5 107.8h0.84v0.84h-0.84zM454.6 115.5h0.84v0.84h-0.84zM465.9 103.6h0.84v0.84h-0.84zM472.2 97.1h0.84v0.84h-0.84zM463.6 107.5h0.84v0.84h-0.84zM460.3 138.1h0.84v0.84h-0.84zM462.3 100.8h0.84v0.84h-0.84zM458.0 126.2h0.84v0.84h-0.84zM464.8 106.6h0.84v0.84h-0.84zM460.7 128.5h0.84v0.84h-0.84zM458.1 118.6h0.84v0.84h-0.84zM455.0 130.4h0.84v0.84h-0.84zM459.5 132.8h0.84v0.84h-0.84zM465.5 103.5h0.84v0.84h-0.84zM458.1 134.6h0.84v0.84h-0.84zM456.1 127.2h0.84v0.84h-0.84zM463.4 110.8h0.84v0.84h-0.84zM482.9 136.7h0.84v0.84h-0.84zM459.7 108.0h0.84v0.84h-0.84zM456.7 120.4h0.84v0.84h-0.84zM482.8 107.4h0.84v0.84h-0.84zM457.7 127.5h0.84v0.84h-0.84zM456.6 110.2h0.84v0.84h-0.84zM462.2 113.5h0.84v0.84h-0.84zM460.3 120.5h0.84v0.84h-0.84zM461.9 103.4h0.84v0.84h-0.84zM457.8 135.0h0.84v0.84h-0.84zM484.6 124.6h0.84v0.84h-0.84zM485.8 114.5h0.84v0.84h-0.84zM457.9 130.8h0.84v0.84h-0.84zM461.2 106.8h0.84v0.84h-0.84zM463.4 109.1h0.84v0.84h-0.84zM473.3 99.9h0.84v0.84h-0.84zM463.1 110.9h0.84v0.84h-0.84zM458.1 132.1h0.84v0.84h-0.84zM464.8 106.0h0.84v0.84h-0.84zM455.1 125.3h0.84v0.84h-0.84zM462.2 109.5h0.84v0.84h-0.84zM471.1 98.8h0.84v0.84h-0.84zM466.0 104.8h0.84v0.84h-0.84zM458.6 133.3h0.84v0.84h-0.84zM484.1 116.1h0.84v0.84h-0.84zM457.0 122.6h0.84v0.84h-0.84zM457.2 115.0h0.84v0.84h-0.84zM458.7 113.4h0.84v0.84h-0.84zM483.6 104.6h0.84v0.84h-0.84zM454.8 118.2h0.84v0.84h-0.84zM454.3 126.8h0.84v0.84h-0.84zM462.5 107.6h0.84v0.84h-0.84zM484.1 115.3h0.84v0.84h-0.84zM451.7 136.3h0.84v0.84h-0.84zM472.3 97.4h0.84v0.84h-0.84zM464.4 138.3h0.84v0.84h-0.84zM459.5 118.2h0.84v0.84h-0.84zM462.3 115.8h0.84v0.84h-0.84zM460.1 108.9h0.84v0.84h-0.84zM459.0 136.2h0.84v0.84h-0.84zM460.0 129.0h0.84v0.84h-0.84zM462.1 120.1h0.84v0.84h-0.84zM456.8 123.7h0.84v0.84h-0.84zM482.6 105.8h0.84v0.84h-0.84zM461.1 112.0h0.84v0.84h-0.84zM478.9 101.4h0.84v0.84h-0.84zM454.1 131.8h0.84v0.84h-0.84zM463.1 99.3h0.84v0.84h-0.84zM477.4 100.4h0.84v0.84h-0.84zM461.2 113.6h0.84v0.84h-0.84zM462.9 102.4h0.84v0.84h-0.84zM472.5 101.1h0.84v0.84h-0.84zM483.3 109.3h0.84v0.84h-0.84zM483.0 103.4h0.84v0.84h-0.84zM462.4 104.5h0.84v0.84h-0.84zM462.8 101.2h0.84v0.84h-0.84zM459.5 116.7h0.84v0.84h-0.84zM483.6 113.3h0.84v0.84h-0.84zM459.5 122.0h0.84v0.84h-0.84zM470.2 100.9h0.84v0.84h-0.84zM480.6 102.7h0.84v0.84h-0.84zM480.6 138.2h0.84v0.84h-0.84zM462.1 109.1h0.84v0.84h-0.84zM458.6 136.2h0.84v0.84h-0.84zM475.6 95.6h0.84v0.84h-0.84zM471.2 99.6h0.84v0.84h-0.84zM467.6 99.6h0.84v0.84h-0.84zM460.1 111.0h0.84v0.84h-0.84zM478.0 101.3h0.84v0.84h-0.84zM457.5 120.1h0.84v0.84h-0.84zM458.2 121.7h0.84v0.84h-0.84zM460.0 132.6h0.84v0.84h-0.84zM457.8 131.2h0.84v0.84h-0.84zM461.0 121.7h0.84v0.84h-0.84zM457.9 127.4h0.84v0.84h-0.84zM460.4 119.6h0.84v0.84h-0.84zM458.3 106.2h0.84v0.84h-0.84zM475.4 101.0h0.84v0.84h-0.84zM462.0 116.4h0.84v0.84h-0.84zM461.4 126.5h0.84v0.84h-0.84zM458.6 128.5h0.84v0.84h-0.84zM456.9 120.8h0.84v0.84h-0.84zM461.8 118.8h0.84v0.84h-0.84zM455.8 132.1h0.84v0.84h-0.84zM466.8 103.1h0.84v0.84h-0.84zM454.6 136.3h0.84v0.84h-0.84zM483.5 123.1h0.84v0.84h-0.84zM483.7 134.1h0.84v0.84h-0.84zM479.7 98.9h0.84v0.84h-0.84zM459.5 112.5h0.84v0.84h-0.84zM481.4 102.0h0.84v0.84h-0.84zM462.5 114.9h0.84v0.84h-0.84zM457.7 119.8h0.84v0.84h-0.84zM482.6 108.6h0.84v0.84h-0.84zM460.6 122.6h0.84v0.84h-0.84zM460.4 127.6h0.84v0.84h-0.84zM458.9 137.7h0.84v0.84h-0.84zM468.0 100.9h0.84v0.84h-0.84zM485.0 110.8h0.84v0.84h-0.84zM482.7 130.9h0.84v0.84h-0.84zM483.8 119.7h0.84v0.84h-0.84zM462.3 116.0h0.84v0.84h-0.84zM461.7 104.4h0.84v0.84h-0.84zM481.1 99.3h0.84v0.84h-0.84zM464.2 106.6h0.84v0.84h-0.84zM458.2 126.4h0.84v0.84h-0.84zM483.0 132.4h0.84v0.84h-0.84zM480.4 138.3h0.84v0.84h-0.84zM481.6 100.9h0.84v0.84h-0.84zM468.0 100.1h0.84v0.84h-0.84zM458.6 117.5h0.84v0.84h-0.84zM473.3 94.7h0.84v0.84h-0.84zM482.7 137.3h0.84v0.84h-0.84zM454.7 122.5h0.84v0.84h-0.84zM455.8 131.3h0.84v0.84h-0.84zM482.8 130.5h0.84v0.84h-0.84zM457.4 135.7h0.84v0.84h-0.84zM460.7 126.6h0.84v0.84h-0.84zM462.5 114.8h0.84v0.84h-0.84zM483.0 131.9h0.84v0.84h-0.84zM458.4 130.1h0.84v0.84h-0.84zM483.3 137.5h0.84v0.84h-0.84zM459.7 116.4h0.84v0.84h-0.84zM457.4 129.5h0.84v0.84h-0.84zM456.8 101.1h0.84v0.84h-0.84zM466.0 105.9h0.84v0.84h-0.84zM457.2 136.9h0.84v0.84h-0.84zM478.8 101.4h0.84v0.84h-0.84zM475.9 97.0h0.84v0.84h-0.84zM461.2 105.3h0.84v0.84h-0.84zM459.7 125.8h0.84v0.84h-0.84zM458.4 122.7h0.84v0.84h-0.84zM472.1 101.0h0.84v0.84h-0.84zM459.1 133.9h0.84v0.84h-0.84zM462.8 115.7h0.84v0.84h-0.84zM475.9 98.3h0.84v0.84h-0.84zM470.1 102.2h0.84v0.84h-0.84zM469.0 96.5h0.84v0.84h-0.84zM460.3 137.3h0.84v0.84h-0.84zM471.8 97.7h0.84v0.84h-0.84zM464.3 102.5h0.84v0.84h-0.84zM483.0 131.6h0.84v0.84h-0.84zM455.2 123.6h0.84v0.84h-0.84zM474.7 99.2h0.84v0.84h-0.84zM457.0 120.5h0.84v0.84h-0.84zM457.9 122.8h0.84v0.84h-0.84zM457.7 109.5h0.84v0.84h-0.84zM475.4 100.5h0.84v0.84h-0.84zM473.3 97.7h0.84v0.84h-0.84zM472.5 100.8h0.84v0.84h-0.84zM483.6 112.9h0.84v0.84h-0.84zM458.6 122.4h0.84v0.84h-0.84zM470.8 100.1h0.84v0.84h-0.84zM455.4 115.7h0.84v0.84h-0.84zM472.8 101.2h0.84v0.84h-0.84zM457.8 128.4h0.84v0.84h-0.84zM484.8 115.7h0.84v0.84h-0.84zM474.8 93.9h0.84v0.84h-0.84zM462.6 138.2h0.84v0.84h-0.84zM462.6 110.6h0.84v0.84h-0.84zM457.4 125.9h0.84v0.84h-0.84zM465.4 105.5h0.84v0.84h-0.84zM457.3 135.6h0.84v0.84h-0.84zM481.1 103.5h0.84v0.84h-0.84zM461.2 127.9h0.84v0.84h-0.84zM476.9 100.6h0.84v0.84h-0.84zM460.8 109.2h0.84v0.84h-0.84zM460.2 118.8h0.84v0.84h-0.84zM454.7 116.1h0.84v0.84h-0.84zM483.3 107.0h0.84v0.84h-0.84zM483.3 109.8h0.84v0.84h-0.84zM462.4 105.4h0.84v0.84h-0.84zM483.8 106.4h0.84v0.84h-0.84zM483.2 117.8h0.84v0.84h-0.84zM477.9 101.2h0.84v0.84h-0.84zM463.5 110.7h0.84v0.84h-0.84zM453.6 132.5h0.84v0.84h-0.84zM483.5 112.9h0.84v0.84h-0.84zM463.2 114.0h0.84v0.84h-0.84zM461.0 116.9h0.84v0.84h-0.84zM465.3 104.2h0.84v0.84h-0.84zM468.7 102.1h0.84v0.84h-0.84zM480.6 99.0h0.84v0.84h-0.84zM459.6 128.1h0.84v0.84h-0.84zM456.3 128.9h0.84v0.84h-0.84zM461.2 118.8h0.84v0.84h-0.84zM460.1 119.0h0.84v0.84h-0.84zM455.5 126.0h0.84v0.84h-0.84zM458.8 134.0h0.84v0.84h-0.84zM481.0 103.4h0.84v0.84h-0.84zM469.9 138.3h0.84v0.84h-0.84zM460.9 99.5h0.84v0.84h-0.84zM483.2 123.8h0.84v0.84h-0.84zM473.1 100.3h0.84v0.84h-0.84zM462.2 110.3h0.84v0.84h-0.84zM476.4 98.1h0.84v0.84h-0.84zM454.9 131.8h0.84v0.84h-0.84zM464.2 109.3h0.84v0.84h-0.84zM459.0 132.5h0.84v0.84h-0.84zM458.7 132.1h0.84v0.84h-0.84zM483.4 120.0h0.84v0.84h-0.84zM465.6 105.6h0.84v0.84h-0.84zM463.1 111.7h0.84v0.84h-0.84zM475.5 98.6h0.84v0.84h-0.84zM459.4 110.6h0.84v0.84h-0.84zM456.7 131.7h0.84v0.84h-0.84zM481.5 103.1h0.84v0.84h-0.84zM455.9 123.4h0.84v0.84h-0.84zM470.9 98.9h0.84v0.84h-0.84zM483.3 122.4h0.84v0.84h-0.84zM461.0 109.2h0.84v0.84h-0.84zM456.5 121.1h0.84v0.84h-0.84zM460.8 105.4h0.84v0.84h-0.84zM483.4 110.5h0.84v0.84h-0.84zM460.6 134.4h0.84v0.84h-0.84zM459.7 136.1h0.84v0.84h-0.84zM459.2 118.4h0.84v0.84h-0.84zM461.1 134.6h0.84v0.84h-0.84zM483.8 128.9h0.84v0.84h-0.84zM457.5 119.6h0.84v0.84h-0.84zM454.6 119.4h0.84v0.84h-0.84zM460.6 120.1h0.84v0.84h-0.84zM460.6 118.2h0.84v0.84h-0.84zM462.5 114.4h0.84v0.84h-0.84zM461.8 109.6h0.84v0.84h-0.84zM483.7 104.0h0.84v0.84h-0.84zM484.0 131.1h0.84v0.84h-0.84zM463.3 112.3h0.84v0.84h-0.84zM460.0 122.8h0.84v0.84h-0.84zM483.8 125.8h0.84v0.84h-0.84zM473.9 100.7h0.84v0.84h-0.84zM485.2 107.9h0.84v0.84h-0.84zM458.2 122.3h0.84v0.84h-0.84zM461.4 119.2h0.84v0.84h-0.84zM460.9 118.9h0.84v0.84h-0.84zM475.0 99.3h0.84v0.84h-0.84zM483.3 127.4h0.84v0.84h-0.84zM455.8 134.2h0.84v0.84h-0.84zM456.8 127.2h0.84v0.84h-0.84zM457.7 118.0h0.84v0.84h-0.84zM470.8 97.4h0.84v0.84h-0.84zM458.0 136.3h0.84v0.84h-0.84zM461.9 115.6h0.84v0.84h-0.84zM483.7 113.3h0.84v0.84h-0.84zM464.9 109.1h0.84v0.84h-0.84zM483.1 110.1h0.84v0.84h-0.84zM455.2 116.6h0.84v0.84h-0.84zM459.7 125.3h0.84v0.84h-0.84zM463.2 108.3h0.84v0.84h-0.84zM468.6 101.0h0.84v0.84h-0.84zM459.8 113.1h0.84v0.84h-0.84zM460.3 103.3h0.84v0.84h-0.84zM459.9 115.7h0.84v0.84h-0.84zM460.6 128.7h0.84v0.84h-0.84zM461.8 109.5h0.84v0.84h-0.84zM460.1 116.0h0.84v0.84h-0.84zM472.5 97.9h0.84v0.84h-0.84zM463.5 111.8h0.84v0.84h-0.84zM479.7 102.1h0.84v0.84h-0.84zM458.3 120.4h0.84v0.84h-0.84zM466.6 101.4h0.84v0.84h-0.84zM461.5 124.6h0.84v0.84h-0.84zM468.1 100.3h0.84v0.84h-0.84zM483.3 115.6h0.84v0.84h-0.84zM484.3 128.8h0.84v0.84h-0.84zM484.1 117.2h0.84v0.84h-0.84zM457.2 131.4h0.84v0.84h-0.84zM458.3 120.4h0.84v0.84h-0.84zM460.9 128.7h0.84v0.84h-0.84zM485.5 113.7h0.84v0.84h-0.84zM482.2 101.5h0.84v0.84h-0.84zM462.5 116.0h0.84v0.84h-0.84zM464.5 107.2h0.84v0.84h-0.84zM462.8 115.1h0.84v0.84h-0.84zM483.6 137.9h0.84v0.84h-0.84zM456.1 128.9h0.84v0.84h-0.84zM461.5 102.9h0.84v0.84h-0.84zM469.4 102.5h0.84v0.84h-0.84zM484.0 131.7h0.84v0.84h-0.84zM459.8 125.2h0.84v0.84h-0.84zM461.9 112.5h0.84v0.84h-0.84zM457.3 136.5h0.84v0.84h-0.84zM467.1 98.9h0.84v0.84h-0.84zM474.6 100.7h0.84v0.84h-0.84zM476.3 94.3h0.84v0.84h-0.84zM460.8 130.0h0.84v0.84h-0.84zM459.1 114.8h0.84v0.84h-0.84zM478.5 99.0h0.84v0.84h-0.84zM454.3 123.0h0.84v0.84h-0.84zM461.6 116.0h0.84v0.84h-0.84zM483.3 126.3h0.84v0.84h-0.84zM484.0 114.6h0.84v0.84h-0.84zM459.0 128.5h0.84v0.84h-0.84zM468.5 98.6h0.84v0.84h-0.84zM458.1 129.2h0.84v0.84h-0.84zM476.1 97.6h0.84v0.84h-0.84zM463.9 106.5h0.84v0.84h-0.84zM482.6 133.0h0.84v0.84h-0.84zM465.3 99.8h0.84v0.84h-0.84zM467.5 102.9h0.84v0.84h-0.84zM467.5 102.8h0.84v0.84h-0.84zM458.3 119.7h0.84v0.84h-0.84zM456.5 118.5h0.84v0.84h-0.84zM458.4 115.0h0.84v0.84h-0.84zM483.2 110.2h0.84v0.84h-0.84zM482.8 105.5h0.84v0.84h-0.84zM460.7 110.4h0.84v0.84h-0.84zM483.7 116.0h0.84v0.84h-0.84zM459.7 135.7h0.84v0.84h-0.84zM472.7 100.8h0.84v0.84h-0.84zM463.5 108.7h0.84v0.84h-0.84zM461.8 114.4h0.84v0.84h-0.84zM484.1 119.7h0.84v0.84h-0.84zM458.6 120.9h0.84v0.84h-0.84zM465.5 106.1h0.84v0.84h-0.84zM466.9 99.9h0.84v0.84h-0.84zM465.3 98.4h0.84v0.84h-0.84zM461.6 104.6h0.84v0.84h-0.84zM481.7 104.1h0.84v0.84h-0.84zM458.2 115.8h0.84v0.84h-0.84zM453.8 116.0h0.84v0.84h-0.84zM461.0 111.7h0.84v0.84h-0.84zM458.3 137.0h0.84v0.84h-0.84zM476.3 100.2h0.84v0.84h-0.84zM463.9 107.5h0.84v0.84h-0.84zM473.4 100.6h0.84v0.84h-0.84zM459.5 120.7h0.84v0.84h-0.84zM475.0 94.0h0.84v0.84h-0.84zM484.0 119.4h0.84v0.84h-0.84zM461.6 121.3h0.84v0.84h-0.84zM484.0 116.2h0.84v0.84h-0.84zM457.9 118.9h0.84v0.84h-0.84zM464.1 107.2h0.84v0.84h-0.84zM457.9 121.7h0.84v0.84h-0.84zM459.9 121.8h0.84v0.84h-0.84zM482.5 135.1h0.84v0.84h-0.84zM467.3 98.2h0.84v0.84h-0.84zM460.3 128.1h0.84v0.84h-0.84zM454.6 129.3h0.84v0.84h-0.84zM460.8 132.9h0.84v0.84h-0.84zM472.5 98.0h0.84v0.84h-0.84zM458.7 134.5h0.84v0.84h-0.84zM481.8 102.3h0.84v0.84h-0.84zM459.9 118.1h0.84v0.84h-0.84zM459.8 118.0h0.84v0.84h-0.84zM461.8 115.4h0.84v0.84h-0.84zM455.7 135.2h0.84v0.84h-0.84zM461.1 127.1h0.84v0.84h-0.84zM458.0 135.2h0.84v0.84h-0.84zM483.4 112.3h0.84v0.84h-0.84zM477.2 98.7h0.84v0.84h-0.84zM458.3 111.1h0.84v0.84h-0.84z" fill="#44e424" opacity="0.9"/>
<path d="M466.1 95.1h0.84v0.84h-0.84zM481.5 101.4h0.84v0.84h-0.84zM465.8 103.9h0.84v0.84h-0.84zM458.8 116.2h0.84v0.84h-0.84zM455.2 127.3h0.84v0.84h-0.84zM455.6 125.4h0.84v0.84h-0.84zM459.1 122.4h0.84v0.84h-0.84zM471.4 97.0h0.84v0.84h-0.84zM474.0 98.9h0.84v0.84h-0.84zM460.7 137.3h0.84v0.84h-0.84zM458.7 113.9h0.84v0.84h-0.84zM477.1 100.2h0.84v0.84h-0.84zM458.2 136.4h0.84v0.84h-0.84zM458.7 137.8h0.84v0.84h-0.84zM482.9 132.4h0.84v0.84h-0.84zM483.7 108.1h0.84v0.84h-0.84zM462.6 116.8h0.84v0.84h-0.84zM485.7 114.7h0.84v0.84h-0.84zM462.1 108.5h0.84v0.84h-0.84zM463.8 106.9h0.84v0.84h-0.84zM473.2 100.6h0.84v0.84h-0.84zM468.9 101.2h0.84v0.84h-0.84zM480.1 101.9h0.84v0.84h-0.84zM458.1 135.4h0.84v0.84h-0.84zM461.5 115.4h0.84v0.84h-0.84zM483.1 126.4h0.84v0.84h-0.84zM459.6 120.6h0.84v0.84h-0.84zM460.3 126.4h0.84v0.84h-0.84zM473.5 138.3h0.84v0.84h-0.84zM468.6 101.5h0.84v0.84h-0.84zM464.1 105.9h0.84v0.84h-0.84zM484.4 126.5h0.84v0.84h-0.84zM454.6 135.6h0.84v0.84h-0.84zM465.3 101.1h0.84v0.84h-0.84zM475.0 101.1h0.84v0.84h-0.84zM466.7 101.7h0.84v0.84h-0.84zM457.5 123.3h0.84v0.84h-0.84zM460.9 124.0h0.84v0.84h-0.84zM482.9 137.4h0.84v0.84h-0.84zM461.3 119.3h0.84v0.84h-0.84zM483.0 132.2h0.84v0.84h-0.84zM458.6 118.8h0.84v0.84h-0.84zM468.5 98.5h0.84v0.84h-0.84zM484.9 127.6h0.84v0.84h-0.84zM479.3 98.1h0.84v0.84h-0.84zM459.6 120.4h0.84v0.84h-0.84zM461.1 121.3h0.84v0.84h-0.84zM459.0 117.2h0.84v0.84h-0.84zM485.3 116.3h0.84v0.84h-0.84zM456.7 123.7h0.84v0.84h-0.84zM455.0 134.7h0.84v0.84h-0.84zM462.3 112.0h0.84v0.84h-0.84zM459.2 110.6h0.84v0.84h-0.84zM458.7 100.7h0.84v0.84h-0.84zM457.8 128.3h0.84v0.84h-0.84zM483.2 120.1h0.84v0.84h-0.84zM481.2 103.8h0.84v0.84h-0.84zM455.8 135.2h0.84v0.84h-0.84zM453.5 136.5h0.84v0.84h-0.84zM483.3 123.0h0.84v0.84h-0.84zM462.1 106.7h0.84v0.84h-0.84zM451.4 119.0h0.84v0.84h-0.84zM462.3 110.9h0.84v0.84h-0.84zM460.8 120.9h0.84v0.84h-0.84zM459.2 133.5h0.84v0.84h-0.84zM456.4 133.9h0.84v0.84h-0.84zM465.2 107.4h0.84v0.84h-0.84zM463.8 111.0h0.84v0.84h-0.84zM480.0 101.6h0.84v0.84h-0.84zM458.5 120.3h0.84v0.84h-0.84zM457.7 127.7h0.84v0.84h-0.84zM458.4 117.7h0.84v0.84h-0.84zM473.2 99.2h0.84v0.84h-0.84zM472.4 101.7h0.84v0.84h-0.84zM472.6 100.9h0.84v0.84h-0.84zM483.7 109.3h0.84v0.84h-0.84zM459.4 124.4h0.84v0.84h-0.84zM473.1 138.2h0.84v0.84h-0.84zM477.0 97.2h0.84v0.84h-0.84zM479.4 101.6h0.84v0.84h-0.84zM459.2 118.9h0.84v0.84h-0.84zM484.9 124.6h0.84v0.84h-0.84zM482.6 133.7h0.84v0.84h-0.84zM465.8 106.7h0.84v0.84h-0.84zM468.3 102.2h0.84v0.84h-0.84zM471.6 138.3h0.84v0.84h-0.84zM463.2 108.7h0.84v0.84h-0.84zM459.3 113.7h0.84v0.84h-0.84zM459.0 120.2h0.84v0.84h-0.84zM483.4 122.6h0.84v0.84h-0.84zM459.6 135.9h0.84v0.84h-0.84zM484.2 125.9h0.84v0.84h-0.84zM458.7 129.4h0.84v0.84h-0.84zM458.3 124.1h0.84v0.84h-0.84zM458.9 113.2h0.84v0.84h-0.84zM463.6 110.6h0.84v0.84h-0.84zM476.7 99.5h0.84v0.84h-0.84zM454.8 126.6h0.84v0.84h-0.84zM482.6 133.5h0.84v0.84h-0.84zM459.1 119.3h0.84v0.84h-0.84zM469.8 95.7h0.84v0.84h-0.84zM484.6 110.0h0.84v0.84h-0.84zM469.4 101.5h0.84v0.84h-0.84zM483.9 131.9h0.84v0.84h-0.84zM464.5 109.6h0.84v0.84h-0.84zM471.6 100.2h0.84v0.84h-0.84zM484.2 119.0h0.84v0.84h-0.84zM467.4 102.7h0.84v0.84h-0.84zM459.4 127.9h0.84v0.84h-0.84zM473.9 99.5h0.84v0.84h-0.84zM458.3 135.5h0.84v0.84h-0.84zM463.7 107.3h0.84v0.84h-0.84zM460.7 121.3h0.84v0.84h-0.84zM461.0 133.5h0.84v0.84h-0.84zM466.1 99.7h0.84v0.84h-0.84zM482.5 106.8h0.84v0.84h-0.84zM460.7 118.3h0.84v0.84h-0.84zM481.3 100.4h0.84v0.84h-0.84zM459.2 129.5h0.84v0.84h-0.84zM460.9 127.3h0.84v0.84h-0.84zM485.0 138.3h0.84v0.84h-0.84zM463.7 105.3h0.84v0.84h-0.84zM455.6 133.3h0.84v0.84h-0.84zM466.5 105.4h0.84v0.84h-0.84zM476.9 97.3h0.84v0.84h-0.84zM457.5 132.1h0.84v0.84h-0.84zM481.3 102.5h0.84v0.84h-0.84zM472.2 99.8h0.84v0.84h-0.84zM482.0 102.2h0.84v0.84h-0.84zM483.5 118.8h0.84v0.84h-0.84zM458.2 128.5h0.84v0.84h-0.84zM461.7 121.7h0.84v0.84h-0.84zM468.5 97.6h0.84v0.84h-0.84zM471.0 100.5h0.84v0.84h-0.84zM453.0 110.1h0.84v0.84h-0.84zM483.7 114.6h0.84v0.84h-0.84zM463.3 104.9h0.84v0.84h-0.84zM453.5 126.6h0.84v0.84h-0.84zM483.3 113.1h0.84v0.84h-0.84zM458.7 113.1h0.84v0.84h-0.84zM461.7 124.7h0.84v0.84h-0.84zM469.2 102.5h0.84v0.84h-0.84zM459.5 132.1h0.84v0.84h-0.84zM458.2 123.6h0.84v0.84h-0.84zM461.6 112.3h0.84v0.84h-0.84zM479.9 99.3h0.84v0.84h-0.84zM478.7 100.7h0.84v0.84h-0.84zM457.2 132.6h0.84v0.84h-0.84zM458.2 119.5h0.84v0.84h-0.84zM473.5 97.7h0.84v0.84h-0.84zM482.8 135.3h0.84v0.84h-0.84zM459.7 104.2h0.84v0.84h-0.84zM461.0 121.8h0.84v0.84h-0.84zM464.9 108.9h0.84v0.84h-0.84zM457.1 125.2h0.84v0.84h-0.84zM463.8 96.6h0.84v0.84h-0.84zM484.8 118.9h0.84v0.84h-0.84zM482.6 107.0h0.84v0.84h-0.84zM459.3 113.6h0.84v0.84h-0.84zM464.9 100.2h0.84v0.84h-0.84zM481.1 100.9h0.84v0.84h-0.84zM460.5 109.0h0.84v0.84h-0.84zM461.1 121.4h0.84v0.84h-0.84zM462.2 104.1h0.84v0.84h-0.84zM461.0 132.4h0.84v0.84h-0.84zM461.2 108.4h0.84v0.84h-0.84zM483.2 124.2h0.84v0.84h-0.84zM481.0 102.8h0.84v0.84h-0.84zM474.9 101.2h0.84v0.84h-0.84zM479.9 99.3h0.84v0.84h-0.84zM474.9 98.1h0.84v0.84h-0.84zM463.0 113.1h0.84v0.84h-0.84zM457.1 108.6h0.84v0.84h-0.84zM457.6 111.0h0.84v0.84h-0.84zM483.3 121.5h0.84v0.84h-0.84zM451.3 135.0h0.84v0.84h-0.84zM459.0 116.6h0.84v0.84h-0.84zM462.9 112.4h0.84v0.84h-0.84zM462.6 112.4h0.84v0.84h-0.84zM454.2 123.9h0.84v0.84h-0.84zM459.4 130.0h0.84v0.84h-0.84zM462.3 103.0h0.84v0.84h-0.84zM459.2 119.3h0.84v0.84h-0.84zM457.9 107.0h0.84v0.84h-0.84zM460.9 111.5h0.84v0.84h-0.84zM470.3 100.8h0.84v0.84h-0.84zM458.2 115.5h0.84v0.84h-0.84zM473.1 97.3h0.84v0.84h-0.84zM480.1 102.5h0.84v0.84h-0.84zM482.9 107.9h0.84v0.84h-0.84zM455.8 118.8h0.84v0.84h-0.84zM460.7 134.6h0.84v0.84h-0.84zM458.5 119.9h0.84v0.84h-0.84zM459.6 111.6h0.84v0.84h-0.84zM457.8 128.9h0.84v0.84h-0.84zM460.5 124.2h0.84v0.84h-0.84zM482.8 111.1h0.84v0.84h-0.84zM461.8 111.9h0.84v0.84h-0.84zM456.9 114.4h0.84v0.84h-0.84zM482.7 108.8h0.84v0.84h-0.84zM461.2 106.5h0.84v0.84h-0.84zM470.6 138.3h0.84v0.84h-0.84zM480.3 102.5h0.84v0.84h-0.84zM453.9 126.4h0.84v0.84h-0.84zM472.7 99.8h0.84v0.84h-0.84zM454.3 133.4h0.84v0.84h-0.84zM477.6 100.1h0.84v0.84h-0.84zM483.8 126.5h0.84v0.84h-0.84zM455.4 136.5h0.84v0.84h-0.84zM459.1 131.8h0.84v0.84h-0.84zM457.5 133.8h0.84v0.84h-0.84zM474.3 101.0h0.84v0.84h-0.84zM482.7 136.4h0.84v0.84h-0.84zM483.6 109.3h0.84v0.84h-0.84zM461.8 122.6h0.84v0.84h-0.84zM472.3 101.4h0.84v0.84h-0.84zM461.2 128.9h0.84v0.84h-0.84zM465.4 104.5h0.84v0.84h-0.84zM461.1 127.0h0.84v0.84h-0.84zM462.8 110.3h0.84v0.84h-0.84zM477.9 101.4h0.84v0.84h-0.84zM456.0 120.0h0.84v0.84h-0.84zM484.3 128.4h0.84v0.84h-0.84zM483.6 117.4h0.84v0.84h-0.84zM456.6 129.3h0.84v0.84h-0.84zM461.2 116.8h0.84v0.84h-0.84zM469.5 101.1h0.84v0.84h-0.84zM478.4 97.5h0.84v0.84h-0.84zM475.8 96.8h0.84v0.84h-0.84zM483.1 115.1h0.84v0.84h-0.84zM483.9 125.3h0.84v0.84h-0.84zM461.6 123.6h0.84v0.84h-0.84zM458.0 130.9h0.84v0.84h-0.84zM483.5 129.0h0.84v0.84h-0.84zM457.9 129.6h0.84v0.84h-0.84zM459.4 121.7h0.84v0.84h-0.84zM471.3 138.3h0.84v0.84h-0.84zM457.9 123.6h0.84v0.84h-0.84zM483.5 117.9h0.84v0.84h-0.84zM482.5 136.6h0.84v0.84h-0.84zM461.4 119.4h0.84v0.84h-0.84zM464.9 105.3h0.84v0.84h-0.84zM485.0 116.8h0.84v0.84h-0.84zM464.6 104.2h0.84v0.84h-0.84zM460.1 114.2h0.84v0.84h-0.84zM482.5 135.0h0.84v0.84h-0.84zM461.4 124.1h0.84v0.84h-0.84zM476.3 95.2h0.84v0.84h-0.84zM461.5 119.0h0.84v0.84h-0.84zM459.7 116.3h0.84v0.84h-0.84zM459.5 121.9h0.84v0.84h-0.84zM458.2 131.5h0.84v0.84h-0.84zM460.7 106.7h0.84v0.84h-0.84zM483.7 112.5h0.84v0.84h-0.84zM460.9 137.8h0.84v0.84h-0.84zM463.6 104.9h0.84v0.84h-0.84zM459.9 118.8h0.84v0.84h-0.84zM482.8 136.6h0.84v0.84h-0.84zM470.0 96.9h0.84v0.84h-0.84zM455.5 136.7h0.84v0.84h-0.84zM459.3 119.9h0.84v0.84h-0.84zM484.0 115.3h0.84v0.84h-0.84zM456.2 114.9h0.84v0.84h-0.84zM461.4 120.8h0.84v0.84h-0.84zM459.8 115.7h0.84v0.84h-0.84zM483.5 113.7h0.84v0.84h-0.84zM462.4 108.7h0.84v0.84h-0.84zM470.0 96.1h0.84v0.84h-0.84zM485.0 104.8h0.84v0.84h-0.84zM482.5 106.4h0.84v0.84h-0.84zM453.1 128.6h0.84v0.84h-0.84zM474.1 101.0h0.84v0.84h-0.84zM483.0 109.8h0.84v0.84h-0.84zM478.7 97.5h0.84v0.84h-0.84zM482.9 133.9h0.84v0.84h-0.84zM455.7 136.7h0.84v0.84h-0.84zM460.7 112.4h0.84v0.84h-0.84zM474.9 99.2h0.84v0.84h-0.84zM468.4 100.8h0.84v0.84h-0.84zM462.1 116.4h0.84v0.84h-0.84zM479.7 101.5h0.84v0.84h-0.84zM465.3 105.1h0.84v0.84h-0.84zM484.4 134.9h0.84v0.84h-0.84zM460.2 132.0h0.84v0.84h-0.84zM460.9 130.1h0.84v0.84h-0.84zM482.8 105.8h0.84v0.84h-0.84zM471.4 100.2h0.84v0.84h-0.84zM468.2 99.0h0.84v0.84h-0.84zM483.4 104.0h0.84v0.84h-0.84zM480.4 100.8h0.84v0.84h-0.84zM467.4 101.8h0.84v0.84h-0.84zM462.7 104.3h0.84v0.84h-0.84zM457.4 131.8h0.84v0.84h-0.84zM467.4 102.2h0.84v0.84h-0.84zM460.5 116.4h0.84v0.84h-0.84zM460.6 127.1h0.84v0.84h-0.84zM456.7 125.8h0.84v0.84h-0.84zM462.7 106.1h0.84v0.84h-0.84zM465.3 104.0h0.84v0.84h-0.84zM464.4 109.3h0.84v0.84h-0.84z" fill="#7ae060" opacity="0.9"/>
<path d="M476.4 98.2h0.80v0.80h-0.80zM469.6 96.5h0.80v0.80h-0.80zM467.9 101.4h0.80v0.80h-0.80zM485.0 111.0h0.80v0.80h-0.80zM466.2 105.0h0.80v0.80h-0.80zM483.5 130.7h0.80v0.80h-0.80zM460.8 128.7h0.80v0.80h-0.80zM484.0 130.0h0.80v0.80h-0.80zM460.1 137.5h0.80v0.80h-0.80zM464.0 103.6h0.80v0.80h-0.80zM458.2 126.7h0.80v0.80h-0.80zM462.0 100.9h0.80v0.80h-0.80zM482.9 127.9h0.80v0.80h-0.80zM471.5 98.0h0.80v0.80h-0.80zM466.2 104.0h0.80v0.80h-0.80zM478.1 97.8h0.80v0.80h-0.80zM483.4 109.9h0.80v0.80h-0.80zM459.5 118.6h0.80v0.80h-0.80zM465.2 102.7h0.80v0.80h-0.80zM462.8 111.7h0.80v0.80h-0.80zM461.4 121.5h0.80v0.80h-0.80zM461.8 121.6h0.80v0.80h-0.80zM465.4 106.2h0.80v0.80h-0.80zM474.0 100.4h0.80v0.80h-0.80zM458.4 119.4h0.80v0.80h-0.80zM465.3 103.7h0.80v0.80h-0.80zM480.6 96.8h0.80v0.80h-0.80zM462.8 110.3h0.80v0.80h-0.80zM462.8 115.8h0.80v0.80h-0.80zM462.3 118.9h0.80v0.80h-0.80zM482.5 137.3h0.80v0.80h-0.80zM462.7 114.8h0.80v0.80h-0.80zM458.7 126.6h0.80v0.80h-0.80zM460.3 116.9h0.80v0.80h-0.80zM462.8 103.2h0.80v0.80h-0.80zM464.7 109.0h0.80v0.80h-0.80zM466.0 100.9h0.80v0.80h-0.80zM465.1 105.9h0.80v0.80h-0.80zM462.9 115.1h0.80v0.80h-0.80zM473.0 97.5h0.80v0.80h-0.80zM458.2 121.5h0.80v0.80h-0.80zM461.1 117.5h0.80v0.80h-0.80zM480.2 101.6h0.80v0.80h-0.80zM459.1 133.7h0.80v0.80h-0.80zM482.8 133.0h0.80v0.80h-0.80zM461.0 119.5h0.80v0.80h-0.80zM463.9 111.3h0.80v0.80h-0.80zM461.4 120.6h0.80v0.80h-0.80zM463.8 101.9h0.80v0.80h-0.80zM484.0 125.3h0.80v0.80h-0.80zM483.3 127.3h0.80v0.80h-0.80zM483.9 117.6h0.80v0.80h-0.80zM461.6 112.5h0.80v0.80h-0.80zM476.1 99.5h0.80v0.80h-0.80zM463.2 100.8h0.80v0.80h-0.80zM463.1 102.8h0.80v0.80h-0.80zM458.9 138.0h0.80v0.80h-0.80zM461.5 121.5h0.80v0.80h-0.80zM460.3 125.0h0.80v0.80h-0.80zM453.0 115.9h0.80v0.80h-0.80zM460.4 129.4h0.80v0.80h-0.80zM456.8 120.0h0.80v0.80h-0.80zM460.5 122.2h0.80v0.80h-0.80zM459.7 116.5h0.80v0.80h-0.80zM462.7 109.7h0.80v0.80h-0.80zM485.4 120.5h0.80v0.80h-0.80zM481.1 103.2h0.80v0.80h-0.80zM465.3 107.4h0.80v0.80h-0.80zM460.2 98.1h0.80v0.80h-0.80zM460.4 105.6h0.80v0.80h-0.80zM471.4 100.3h0.80v0.80h-0.80zM462.7 103.6h0.80v0.80h-0.80zM464.4 106.1h0.80v0.80h-0.80zM459.0 127.6h0.80v0.80h-0.80zM474.2 99.4h0.80v0.80h-0.80zM483.6 135.9h0.80v0.80h-0.80zM480.8 102.0h0.80v0.80h-0.80zM462.0 116.2h0.80v0.80h-0.80zM456.6 123.6h0.80v0.80h-0.80zM458.5 104.0h0.80v0.80h-0.80zM457.8 126.6h0.80v0.80h-0.80zM461.6 114.1h0.80v0.80h-0.80zM459.1 128.8h0.80v0.80h-0.80zM480.8 101.2h0.80v0.80h-0.80zM456.6 112.5h0.80v0.80h-0.80zM476.1 99.4h0.80v0.80h-0.80zM458.9 138.1h0.80v0.80h-0.80zM458.3 115.4h0.80v0.80h-0.80zM457.4 113.6h0.80v0.80h-0.80zM460.6 110.9h0.80v0.80h-0.80zM484.7 108.7h0.80v0.80h-0.80zM472.7 99.7h0.80v0.80h-0.80zM459.6 118.1h0.80v0.80h-0.80zM460.3 126.3h0.80v0.80h-0.80zM475.1 138.2h0.80v0.80h-0.80zM483.7 134.0h0.80v0.80h-0.80zM464.6 104.8h0.80v0.80h-0.80zM458.9 112.4h0.80v0.80h-0.80zM477.4 98.2h0.80v0.80h-0.80zM459.5 131.4h0.80v0.80h-0.80zM484.1 125.5h0.80v0.80h-0.80zM459.9 117.0h0.80v0.80h-0.80zM479.0 99.0h0.80v0.80h-0.80zM460.1 137.1h0.80v0.80h-0.80zM482.7 108.0h0.80v0.80h-0.80zM459.5 123.0h0.80v0.80h-0.80zM461.2 116.7h0.80v0.80h-0.80zM464.4 105.5h0.80v0.80h-0.80zM477.7 99.2h0.80v0.80h-0.80zM459.8 111.3h0.80v0.80h-0.80zM461.5 118.0h0.80v0.80h-0.80zM458.8 137.8h0.80v0.80h-0.80zM467.0 102.9h0.80v0.80h-0.80zM483.2 128.0h0.80v0.80h-0.80zM461.9 120.2h0.80v0.80h-0.80zM463.7 105.0h0.80v0.80h-0.80zM463.7 109.1h0.80v0.80h-0.80zM458.9 110.0h0.80v0.80h-0.80zM483.1 124.7h0.80v0.80h-0.80zM479.2 102.1h0.80v0.80h-0.80zM467.3 101.5h0.80v0.80h-0.80zM462.4 106.5h0.80v0.80h-0.80zM461.5 116.7h0.80v0.80h-0.80zM462.4 108.0h0.80v0.80h-0.80zM460.2 132.9h0.80v0.80h-0.80zM482.8 107.8h0.80v0.80h-0.80zM475.4 100.4h0.80v0.80h-0.80zM455.5 136.5h0.80v0.80h-0.80zM457.1 119.5h0.80v0.80h-0.80zM459.6 134.2h0.80v0.80h-0.80zM460.3 117.5h0.80v0.80h-0.80zM481.8 104.4h0.80v0.80h-0.80zM459.7 134.9h0.80v0.80h-0.80zM459.0 119.0h0.80v0.80h-0.80zM465.9 102.3h0.80v0.80h-0.80zM456.9 123.7h0.80v0.80h-0.80zM463.8 107.4h0.80v0.80h-0.80zM483.2 110.3h0.80v0.80h-0.80zM459.2 130.5h0.80v0.80h-0.80zM459.8 122.6h0.80v0.80h-0.80zM472.2 99.5h0.80v0.80h-0.80zM471.7 96.7h0.80v0.80h-0.80zM459.2 133.3h0.80v0.80h-0.80zM458.3 113.3h0.80v0.80h-0.80zM483.1 105.8h0.80v0.80h-0.80zM458.4 121.8h0.80v0.80h-0.80zM483.2 115.9h0.80v0.80h-0.80zM454.7 132.6h0.80v0.80h-0.80zM460.7 136.9h0.80v0.80h-0.80zM458.7 131.0h0.80v0.80h-0.80zM477.3 98.4h0.80v0.80h-0.80zM463.2 102.6h0.80v0.80h-0.80zM483.6 113.6h0.80v0.80h-0.80zM483.4 115.5h0.80v0.80h-0.80zM458.1 134.3h0.80v0.80h-0.80zM465.7 104.5h0.80v0.80h-0.80zM456.8 132.6h0.80v0.80h-0.80zM457.8 130.1h0.80v0.80h-0.80zM456.8 133.3h0.80v0.80h-0.80zM455.3 119.2h0.80v0.80h-0.80zM483.7 132.0h0.80v0.80h-0.80zM462.7 116.7h0.80v0.80h-0.80zM482.9 132.0h0.80v0.80h-0.80zM456.8 122.0h0.80v0.80h-0.80zM459.7 117.5h0.80v0.80h-0.80zM483.1 132.5h0.80v0.80h-0.80zM470.7 100.6h0.80v0.80h-0.80zM454.3 126.1h0.80v0.80h-0.80zM484.0 118.9h0.80v0.80h-0.80zM463.5 110.1h0.80v0.80h-0.80zM457.9 133.8h0.80v0.80h-0.80zM456.1 119.0h0.80v0.80h-0.80zM483.2 106.5h0.80v0.80h-0.80zM483.3 125.7h0.80v0.80h-0.80zM460.9 120.1h0.80v0.80h-0.80zM458.7 125.0h0.80v0.80h-0.80zM460.3 138.1h0.80v0.80h-0.80zM460.5 123.1h0.80v0.80h-0.80zM459.3 114.1h0.80v0.80h-0.80zM459.3 124.5h0.80v0.80h-0.80z" fill="#6a8a60" opacity="0.8"/>
<path d="M470.0 75.0h0.90v0.90h-0.90zM473.0 79.0h0.90v0.90h-0.90zM471.0 83.0h0.90v0.90h-0.90zM476.0 82.0h0.90v0.90h-0.90zM468.0 86.0h0.90v0.90h-0.90zM477.0 86.0h0.90v0.90h-0.90zM472.0 70.0h0.90v0.90h-0.90zM466.0 84.0h0.90v0.90h-0.90zM474.0 88.0h0.90v0.90h-0.90z" fill="#b8a8c0" opacity="1"/>
</g>
<polygon points="326.5,56.2 343.4,44.0 356.4,42.7 364.9,57.7 360.2,82.3 346.2,92.6 331.2,86.1" fill="none" stroke="#222" stroke-width="1"/>
<polygon points="454.6,54.7 474.6,41.6 484.5,40.7 492.7,56.5 487.7,82.3 473.6,90.7 459.6,86.1" fill="none" stroke="#222" stroke-width="1"/>
<text x="346.2" y="70.8" font-size="7.2" font-weight="bold" fill="#222" text-anchor="middle" >P3</text>
<text x="474.0" y="68.5" font-size="7.2" font-weight="bold" fill="#222" text-anchor="middle" >P3</text>
<line x1="59" y1="219" x2="59" y2="392.3" stroke="#000" stroke-width="1.5" />
<line x1="56" y1="391.5" x2="457" y2="391.5" stroke="#000" stroke-width="1.4" />
<line x1="55.4" y1="391.6" x2="59" y2="391.6" stroke="#111" stroke-width="1" />
<text x="53.3" y="394.1" font-size="7.0" font-weight="normal" fill="#1e1e1e" text-anchor="end" transform-origin="53.3 0" style="transform:scaleX(1.17)">0</text>
<line x1="55.4" y1="382.67" x2="59" y2="382.67" stroke="#111" stroke-width="1" />
<text x="53.3" y="385.17" font-size="7.0" font-weight="normal" fill="#1e1e1e" text-anchor="end" transform-origin="53.3 0" style="transform:scaleX(1.17)">100</text>
<line x1="55.4" y1="373.74" x2="59" y2="373.74" stroke="#111" stroke-width="1" />
<text x="53.3" y="376.24" font-size="7.0" font-weight="normal" fill="#1e1e1e" text-anchor="end" transform-origin="53.3 0" style="transform:scaleX(1.17)">200</text>
<line x1="55.4" y1="364.81" x2="59" y2="364.81" stroke="#111" stroke-width="1" />
<text x="53.3" y="367.31" font-size="7.0" font-weight="normal" fill="#1e1e1e" text-anchor="end" transform-origin="53.3 0" style="transform:scaleX(1.17)">300</text>
<line x1="55.4" y1="355.88" x2="59" y2="355.88" stroke="#111" stroke-width="1" />
<text x="53.3" y="358.38" font-size="7.0" font-weight="normal" fill="#1e1e1e" text-anchor="end" transform-origin="53.3 0" style="transform:scaleX(1.17)">400</text>
<line x1="55.4" y1="346.95000000000005" x2="59" y2="346.95000000000005" stroke="#111" stroke-width="1" />
<text x="53.3" y="349.45000000000005" font-size="7.0" font-weight="normal" fill="#1e1e1e" text-anchor="end" transform-origin="53.3 0" style="transform:scaleX(1.17)">500</text>
<line x1="55.4" y1="338.02000000000004" x2="59" y2="338.02000000000004" stroke="#111" stroke-width="1" />
<text x="53.3" y="340.52000000000004" font-size="7.0" font-weight="normal" fill="#1e1e1e" text-anchor="end" transform-origin="53.3 0" style="transform:scaleX(1.17)">600</text>
<line x1="55.4" y1="329.09000000000003" x2="59" y2="329.09000000000003" stroke="#111" stroke-width="1" />
<text x="53.3" y="331.59000000000003" font-size="7.0" font-weight="normal" fill="#1e1e1e" text-anchor="end" transform-origin="53.3 0" style="transform:scaleX(1.17)">700</text>
<line x1="55.4" y1="320.16" x2="59" y2="320.16" stroke="#111" stroke-width="1" />
<text x="53.3" y="322.66" font-size="7.0" font-weight="normal" fill="#1e1e1e" text-anchor="end" transform-origin="53.3 0" style="transform:scaleX(1.17)">800</text>
<line x1="55.4" y1="311.23" x2="59" y2="311.23" stroke="#111" stroke-width="1" />
<text x="53.3" y="313.73" font-size="7.0" font-weight="normal" fill="#1e1e1e" text-anchor="end" transform-origin="53.3 0" style="transform:scaleX(1.17)">900</text>
<line x1="55.4" y1="302.3" x2="59" y2="302.3" stroke="#111" stroke-width="1" />
<text x="53.3" y="304.8" font-size="7.0" font-weight="normal" fill="#1e1e1e" text-anchor="end" transform-origin="53.3 0" style="transform:scaleX(1.17)">1000</text>
<line x1="55.4" y1="293.37" x2="59" y2="293.37" stroke="#111" stroke-width="1" />
<text x="53.3" y="295.87" font-size="7.0" font-weight="normal" fill="#1e1e1e" text-anchor="end" transform-origin="53.3 0" style="transform:scaleX(1.17)">1100</text>
<line x1="55.4" y1="284.44" x2="59" y2="284.44" stroke="#111" stroke-width="1" />
<text x="53.3" y="286.94" font-size="7.0" font-weight="normal" fill="#1e1e1e" text-anchor="end" transform-origin="53.3 0" style="transform:scaleX(1.17)">1200</text>
<line x1="55.4" y1="275.51" x2="59" y2="275.51" stroke="#111" stroke-width="1" />
<text x="53.3" y="278.01" font-size="7.0" font-weight="normal" fill="#1e1e1e" text-anchor="end" transform-origin="53.3 0" style="transform:scaleX(1.17)">1300</text>
<line x1="55.4" y1="266.58000000000004" x2="59" y2="266.58000000000004" stroke="#111" stroke-width="1" />
<text x="53.3" y="269.08000000000004" font-size="7.0" font-weight="normal" fill="#1e1e1e" text-anchor="end" transform-origin="53.3 0" style="transform:scaleX(1.17)">1400</text>
<line x1="55.4" y1="257.65" x2="59" y2="257.65" stroke="#111" stroke-width="1" />
<text x="53.3" y="260.15" font-size="7.0" font-weight="normal" fill="#1e1e1e" text-anchor="end" transform-origin="53.3 0" style="transform:scaleX(1.17)">1500</text>
<line x1="55.4" y1="248.72000000000003" x2="59" y2="248.72000000000003" stroke="#111" stroke-width="1" />
<text x="53.3" y="251.22000000000003" font-size="7.0" font-weight="normal" fill="#1e1e1e" text-anchor="end" transform-origin="53.3 0" style="transform:scaleX(1.17)">1600</text>
<line x1="55.4" y1="239.79000000000002" x2="59" y2="239.79000000000002" stroke="#111" stroke-width="1" />
<text x="53.3" y="242.29000000000002" font-size="7.0" font-weight="normal" fill="#1e1e1e" text-anchor="end" transform-origin="53.3 0" style="transform:scaleX(1.17)">1700</text>
<line x1="55.4" y1="230.86" x2="59" y2="230.86" stroke="#111" stroke-width="1" />
<text x="53.3" y="233.36" font-size="7.0" font-weight="normal" fill="#1e1e1e" text-anchor="end" transform-origin="53.3 0" style="transform:scaleX(1.17)">1800</text>
<line x1="55.4" y1="221.93" x2="59" y2="221.93" stroke="#111" stroke-width="1" />
<text x="53.3" y="224.43" font-size="7.0" font-weight="normal" fill="#1e1e1e" text-anchor="end" transform-origin="53.3 0" style="transform:scaleX(1.17)">1900</text>
<line x1="58.8" y1="391.6" x2="58.8" y2="394.4" stroke="#111" stroke-width="1" />
<text x="58.8" y="405.1" font-size="8.2" font-weight="normal" fill="#1e1e1e" text-anchor="middle" >0</text>
<line x1="76.02499999999999" y1="391.6" x2="76.02499999999999" y2="394.4" stroke="#111" stroke-width="1" />
<text x="76.02499999999999" y="405.1" font-size="8.2" font-weight="normal" fill="#1e1e1e" text-anchor="middle" >5</text>
<line x1="93.25" y1="391.6" x2="93.25" y2="394.4" stroke="#111" stroke-width="1" />
<text x="93.25" y="405.1" font-size="8.2" font-weight="normal" fill="#1e1e1e" text-anchor="middle" >10</text>
<line x1="110.475" y1="391.6" x2="110.475" y2="394.4" stroke="#111" stroke-width="1" />
<text x="110.475" y="405.1" font-size="8.2" font-weight="normal" fill="#1e1e1e" text-anchor="middle" >15</text>
<line x1="127.69999999999999" y1="391.6" x2="127.69999999999999" y2="394.4" stroke="#111" stroke-width="1" />
<text x="127.69999999999999" y="405.1" font-size="8.2" font-weight="normal" fill="#1e1e1e" text-anchor="middle" >20</text>
<line x1="144.925" y1="391.6" x2="144.925" y2="394.4" stroke="#111" stroke-width="1" />
<text x="144.925" y="405.1" font-size="8.2" font-weight="normal" fill="#1e1e1e" text-anchor="middle" >25</text>
<line x1="162.14999999999998" y1="391.6" x2="162.14999999999998" y2="394.4" stroke="#111" stroke-width="1" />
<text x="162.14999999999998" y="405.1" font-size="8.2" font-weight="normal" fill="#1e1e1e" text-anchor="middle" >30</text>
<line x1="179.375" y1="391.6" x2="179.375" y2="394.4" stroke="#111" stroke-width="1" />
<text x="179.375" y="405.1" font-size="8.2" font-weight="normal" fill="#1e1e1e" text-anchor="middle" >35</text>
<line x1="196.59999999999997" y1="391.6" x2="196.59999999999997" y2="394.4" stroke="#111" stroke-width="1" />
<text x="196.59999999999997" y="405.1" font-size="8.2" font-weight="normal" fill="#1e1e1e" text-anchor="middle" >40</text>
<line x1="213.825" y1="391.6" x2="213.825" y2="394.4" stroke="#111" stroke-width="1" />
<text x="213.825" y="405.1" font-size="8.2" font-weight="normal" fill="#1e1e1e" text-anchor="middle" >45</text>
<line x1="231.05" y1="391.6" x2="231.05" y2="394.4" stroke="#111" stroke-width="1" />
<text x="231.05" y="405.1" font-size="8.2" font-weight="normal" fill="#1e1e1e" text-anchor="middle" >50</text>
<line x1="248.27499999999998" y1="391.6" x2="248.27499999999998" y2="394.4" stroke="#111" stroke-width="1" />
<text x="248.27499999999998" y="405.1" font-size="8.2" font-weight="normal" fill="#1e1e1e" text-anchor="middle" >55</text>
<line x1="265.5" y1="391.6" x2="265.5" y2="394.4" stroke="#111" stroke-width="1" />
<text x="265.5" y="405.1" font-size="8.2" font-weight="normal" fill="#1e1e1e" text-anchor="middle" >60</text>
<line x1="282.72499999999997" y1="391.6" x2="282.72499999999997" y2="394.4" stroke="#111" stroke-width="1" />
<text x="282.72499999999997" y="405.1" font-size="8.2" font-weight="normal" fill="#1e1e1e" text-anchor="middle" >65</text>
<line x1="299.95" y1="391.6" x2="299.95" y2="394.4" stroke="#111" stroke-width="1" />
<text x="299.95" y="405.1" font-size="8.2" font-weight="normal" fill="#1e1e1e" text-anchor="middle" >70</text>
<line x1="317.175" y1="391.6" x2="317.175" y2="394.4" stroke="#111" stroke-width="1" />
<text x="317.175" y="405.1" font-size="8.2" font-weight="normal" fill="#1e1e1e" text-anchor="middle" >75</text>
<line x1="334.4" y1="391.6" x2="334.4" y2="394.4" stroke="#111" stroke-width="1" />
<text x="334.4" y="405.1" font-size="8.2" font-weight="normal" fill="#1e1e1e" text-anchor="middle" >80</text>
<line x1="351.625" y1="391.6" x2="351.625" y2="394.4" stroke="#111" stroke-width="1" />
<text x="351.625" y="405.1" font-size="8.2" font-weight="normal" fill="#1e1e1e" text-anchor="middle" >85</text>
<line x1="368.85" y1="391.6" x2="368.85" y2="394.4" stroke="#111" stroke-width="1" />
<text x="368.85" y="405.1" font-size="8.2" font-weight="normal" fill="#1e1e1e" text-anchor="middle" >90</text>
<line x1="386.075" y1="391.6" x2="386.075" y2="394.4" stroke="#111" stroke-width="1" />
<text x="386.075" y="405.1" font-size="8.2" font-weight="normal" fill="#1e1e1e" text-anchor="middle" >95</text>
<line x1="403.3" y1="391.6" x2="403.3" y2="394.4" stroke="#111" stroke-width="1" />
<text x="403.3" y="405.1" font-size="8.2" font-weight="normal" fill="#1e1e1e" text-anchor="middle" >100</text>
<line x1="420.525" y1="391.6" x2="420.525" y2="394.4" stroke="#111" stroke-width="1" />
<text x="420.525" y="405.1" font-size="8.2" font-weight="normal" fill="#1e1e1e" text-anchor="middle" >105</text>
<line x1="437.75" y1="391.6" x2="437.75" y2="394.4" stroke="#111" stroke-width="1" />
<text x="437.75" y="405.1" font-size="8.2" font-weight="normal" fill="#1e1e1e" text-anchor="middle" >110</text>
<line x1="454.97499999999997" y1="391.6" x2="454.97499999999997" y2="394.4" stroke="#111" stroke-width="1" />
<text x="454.97499999999997" y="405.1" font-size="8.2" font-weight="normal" fill="#1e1e1e" text-anchor="middle" >115</text>
<text x="227.9" y="418.0" font-size="8.6" font-weight="normal" fill="#111" text-anchor="start" textLength="61.5" lengthAdjust="spacingAndGlyphs" stroke="#111" stroke-width="0.2">Days post transplant</text>
<g transform="translate(27.6,328.0) rotate(-90)"><text x="0" y="0" font-size="8.4" fill="#111" stroke="#111" stroke-width="0.2" textLength="48" lengthAdjust="spacingAndGlyphs">No. of cells/µl</text></g>
<polyline points="127.7,390.3 196.6,387.3 248.3,230.9 299.9,313.5 320.6,334.3 334.4,341.4 355.1,326.5 368.9,322.5 393.0,338.9 427.4,352.2" fill="none" stroke="#d6c624" stroke-width="1.5" stroke-linejoin="round"/>
<rect x="125.9" y="388.5" width="3.6" height="3.6" fill="#d6c624"/>
<rect x="194.8" y="385.5" width="3.6" height="3.6" fill="#d6c624"/>
<rect x="246.5" y="229.1" width="3.6" height="3.6" fill="#d6c624"/>
<rect x="298.1" y="311.7" width="3.6" height="3.6" fill="#d6c624"/>
<rect x="318.8" y="332.5" width="3.6" height="3.6" fill="#d6c624"/>
<rect x="332.6" y="339.6" width="3.6" height="3.6" fill="#d6c624"/>
<rect x="353.3" y="324.7" width="3.6" height="3.6" fill="#d6c624"/>
<rect x="367.1" y="320.7" width="3.6" height="3.6" fill="#d6c624"/>
<rect x="391.2" y="337.1" width="3.6" height="3.6" fill="#d6c624"/>
<rect x="425.6" y="350.4" width="3.6" height="3.6" fill="#d6c624"/>
<polyline points="127.7,388.5 196.6,329.1 248.3,289.8 299.9,353.2 320.6,364.8 334.4,369.7 355.1,358.7 368.9,358.0 393.0,355.0 427.4,370.3" fill="none" stroke="#22163a" stroke-width="1.5" stroke-linejoin="round"/>
<circle cx="127.7" cy="388.5" r="2.1" fill="#22163a"/>
<circle cx="196.6" cy="329.1" r="2.1" fill="#22163a"/>
<circle cx="248.3" cy="289.8" r="2.1" fill="#22163a"/>
<circle cx="299.9" cy="353.2" r="2.1" fill="#22163a"/>
<circle cx="320.6" cy="364.8" r="2.1" fill="#22163a"/>
<circle cx="334.4" cy="369.7" r="2.1" fill="#22163a"/>
<circle cx="355.1" cy="358.7" r="2.1" fill="#22163a"/>
<circle cx="368.9" cy="358.0" r="2.1" fill="#22163a"/>
<circle cx="393.0" cy="355.0" r="2.1" fill="#22163a"/>
<circle cx="427.4" cy="370.3" r="2.1" fill="#22163a"/>
<polyline points="127.7,390.5 196.6,388.7 248.3,347.1 299.9,368.6 320.6,377.5 334.4,377.9 355.1,375.3 368.9,371.5 393.0,372.4 427.4,376.6" fill="none" stroke="#701530" stroke-width="1.5" stroke-linejoin="round"/>
<polygon points="127.7,388.5 125.7,390.5 127.7,392.5 129.7,390.5" fill="#701530"/>
<polygon points="196.6,386.7 194.6,388.7 196.6,390.7 198.6,388.7" fill="#701530"/>
<polygon points="248.3,345.1 246.3,347.1 248.3,349.1 250.3,347.1" fill="#701530"/>
<polygon points="299.9,366.6 297.9,368.6 299.9,370.6 301.9,368.6" fill="#701530"/>
<polygon points="320.6,375.5 318.6,377.5 320.6,379.5 322.6,377.5" fill="#701530"/>
<polygon points="334.4,375.9 332.4,377.9 334.4,379.9 336.4,377.9" fill="#701530"/>
<polygon points="355.1,373.3 353.1,375.3 355.1,377.3 357.1,375.3" fill="#701530"/>
<polygon points="368.9,369.5 366.9,371.5 368.9,373.5 370.9,371.5" fill="#701530"/>
<polygon points="393.0,370.4 391.0,372.4 393.0,374.4 395.0,372.4" fill="#701530"/>
<polygon points="427.4,374.6 425.4,376.6 427.4,378.6 429.4,376.6" fill="#701530"/>
<polyline points="127.7,390.3 196.6,384.6 248.3,357.2 299.9,379.1 320.6,377.9 334.4,383.0 355.1,384.2 368.9,383.7 393.0,383.2 427.4,385.0" fill="none" stroke="#4a8c34" stroke-width="1.5" stroke-linejoin="round"/>
<polygon points="127.7,388.0 125.5,391.9 129.9,391.9" fill="#4a8c34"/>
<polygon points="196.6,382.3 194.4,386.2 198.8,386.2" fill="#4a8c34"/>
<polygon points="248.3,354.9 246.1,358.8 250.5,358.8" fill="#4a8c34"/>
<polygon points="299.9,376.8 297.8,380.7 302.1,380.7" fill="#4a8c34"/>
<polygon points="320.6,375.6 318.4,379.5 322.8,379.5" fill="#4a8c34"/>
<polygon points="334.4,380.7 332.2,384.6 336.6,384.6" fill="#4a8c34"/>
<polygon points="355.1,381.9 352.9,385.8 357.3,385.8" fill="#4a8c34"/>
<polygon points="368.9,381.4 366.7,385.3 371.1,385.3" fill="#4a8c34"/>
<polygon points="393.0,380.9 390.8,384.8 395.2,384.8" fill="#4a8c34"/>
<polygon points="427.4,382.7 425.2,386.6 429.6,386.6" fill="#4a8c34"/>
<line x1="68.9" y1="239.6" x2="85.2" y2="239.6" stroke="#701530" stroke-width="1.5" />
<polygon points="76.9,237.4 74.7,239.6 76.9,241.8 79.1,239.6" fill="#701530"/>
<text x="87.8" y="242.1" font-size="7.0" font-weight="normal" fill="#222" text-anchor="start" transform-origin="87.8 0" style="transform:scaleX(1.12)">CD4</text>
<line x1="68.9" y1="251.25" x2="85.2" y2="251.25" stroke="#d6c624" stroke-width="1.5" />
<rect x="74.9" y="249.3" width="3.9600000000000004" height="3.9600000000000004" fill="#d6c624"/>
<text x="87.8" y="253.75" font-size="7.0" font-weight="normal" fill="#222" text-anchor="start" transform-origin="87.8 0" style="transform:scaleX(1.12)">CD8</text>
<line x1="68.9" y1="262.9" x2="85.2" y2="262.9" stroke="#4a8c34" stroke-width="1.5" />
<polygon points="76.9,260.4 74.5,264.7 79.3,264.7" fill="#4a8c34"/>
<text x="87.8" y="265.4" font-size="7.0" font-weight="normal" fill="#222" text-anchor="start" transform-origin="87.8 0" style="transform:scaleX(1.12)">CD20</text>
<line x1="68.9" y1="274.55" x2="85.2" y2="274.55" stroke="#22163a" stroke-width="1.5" />
<circle cx="76.9" cy="274.6" r="2.3100000000000005" fill="#22163a"/>
<text x="87.8" y="277.05" font-size="7.0" font-weight="normal" fill="#222" text-anchor="start" transform-origin="87.8 0" style="transform:scaleX(1.12)">NK</text>
<rect x="172.3" y="221.9" width="54.29999999999998" height="23.0" fill="#fff" stroke="#7a2842" stroke-width="1.25"/>
<line x1="226.6" y1="244.9" x2="226.6" y2="258.2" stroke="#6a1a30" stroke-width="1.2" />
<polygon points="226.6,263.2 223.79999999999998,256.9 229.4,256.9" fill="#6a1a30"/>
<text x="199.4" y="232.3" font-size="8.4" font-weight="normal" fill="#222" text-anchor="middle" >CMV</text>
<text x="199.4" y="241.6" font-size="7.4" font-weight="normal" fill="#333" text-anchor="middle" textLength="36.7" lengthAdjust="spacingAndGlyphs">reactivation</text>
<rect x="249.8" y="187.1" width="54.39999999999998" height="23.099999999999994" fill="#fff" stroke="#222" stroke-width="1.1"/>
<line x1="249.8" y1="210.2" x2="249.8" y2="223.2" stroke="#111" stroke-width="1.2" />
<polygon points="249.8,228.2 247.0,221.89999999999998 252.60000000000002,221.89999999999998" fill="#111"/>
<text x="277.2" y="198" font-size="7.6" fill="#222" text-anchor="middle">1<tspan font-size="4.6" dy="-2.8">st</tspan><tspan dy="2.8"> Dexamer</tspan></text>
<text x="277.2" y="207.2" font-size="7.6" font-weight="normal" fill="#222" text-anchor="middle" >CMV test</text>
<rect x="355.5" y="247.6" width="81.0" height="32.79999999999998" fill="#fff" stroke="#222" stroke-width="1.1"/>
<line x1="395.4" y1="280.4" x2="395.4" y2="316.4" stroke="#111" stroke-width="1.2" />
<polygon points="395.4,321.4 392.59999999999997,315.09999999999997 398.2,315.09999999999997" fill="#111"/>
<text x="395.8" y="257.8" font-size="7.6" font-weight="normal" fill="#222" text-anchor="middle" textLength="68" lengthAdjust="spacingAndGlyphs">Cytokine Intracellular</text>
<text x="395.8" y="266.6" font-size="7.6" font-weight="normal" fill="#222" text-anchor="middle" >staining for CMV</text>
<text x="395.8" y="276.3" font-size="7.6" font-weight="normal" fill="#222" text-anchor="middle" >specific cells</text>
<rect x="428" y="307.1" width="63.39999999999998" height="22.19999999999999" fill="#fff" stroke="#222" stroke-width="1.1"/>
<line x1="428" y1="329.3" x2="428" y2="344.2" stroke="#111" stroke-width="1.2" />
<polygon points="428,349.2 425.2,342.9 430.8,342.9" fill="#111"/>
<text x="459.7" y="317.3" font-size="7.6" font-weight="normal" fill="#222" text-anchor="middle" textLength="56.7" lengthAdjust="spacingAndGlyphs">Second Dexamer</text>
<text x="459.7" y="325.9" font-size="7.6" font-weight="normal" fill="#222" text-anchor="middle" >CMV test</text>
</svg></body></html>
